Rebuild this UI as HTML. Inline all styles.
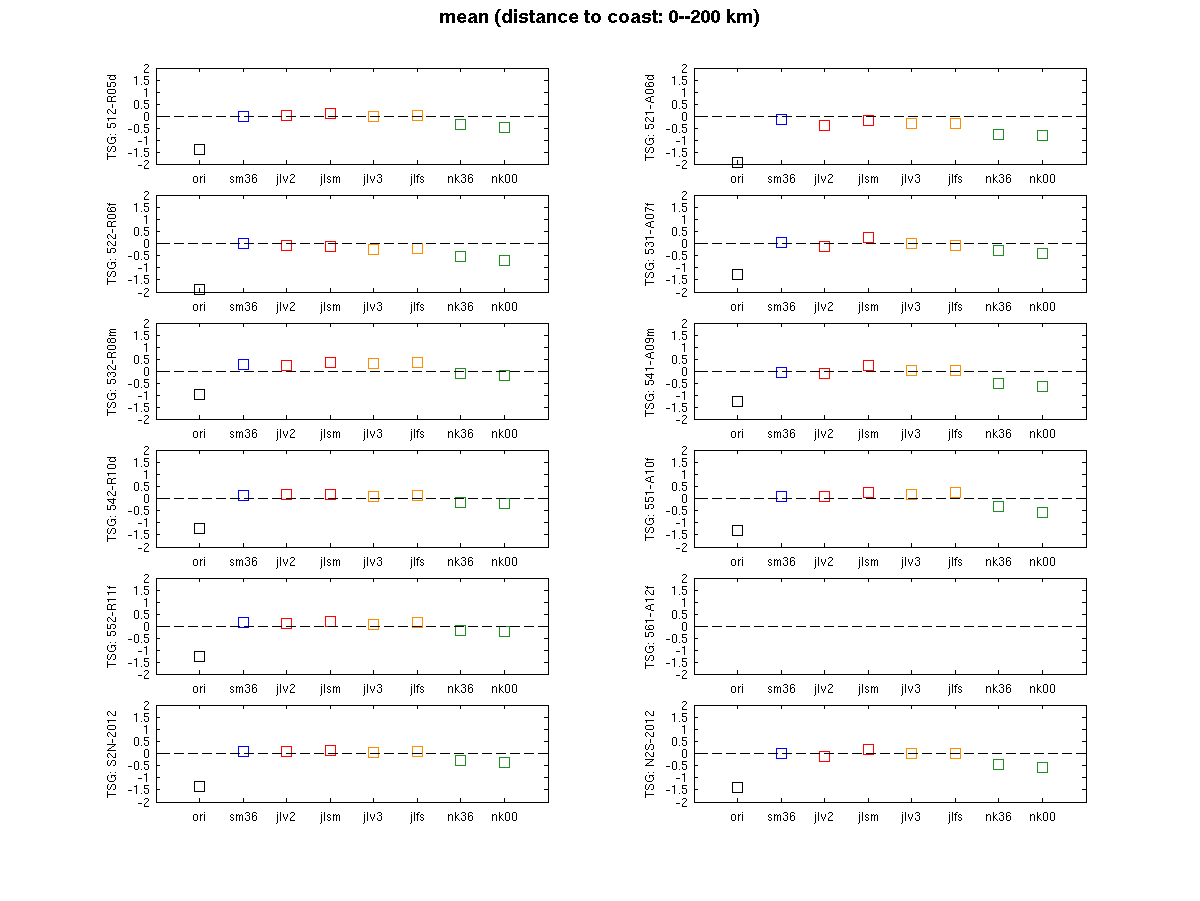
<!DOCTYPE html>
<html><head><meta charset="utf-8"><title>mean (distance to coast: 0--200 km)</title>
<style>html,body{margin:0;padding:0;background:#fff;overflow:hidden}svg{display:block;font-family:"Liberation Sans",sans-serif}</style></head><body>
<svg width="1200" height="901" viewBox="0 0 1200 901" shape-rendering="crispEdges">
<defs><path id="s0" d="M12 0h1v1h-1zM2 2h3v1h-3zM8 2h1v1h-1zM10 2h1v1h-1zM12 2h1v1h-1zM1 3h1v1h-1zM5 3h1v1h-1zM8 3h2v1h-2zM12 3h1v1h-1zM1 4h1v1h-1zM5 4h1v1h-1zM8 4h1v1h-1zM12 4h1v1h-1zM1 5h1v1h-1zM5 5h1v1h-1zM8 5h1v1h-1zM12 5h1v1h-1zM1 6h1v1h-1zM5 6h1v1h-1zM8 6h1v1h-1zM12 6h1v1h-1zM1 7h1v1h-1zM5 7h1v1h-1zM8 7h1v1h-1zM12 7h1v1h-1zM2 8h3v1h-3zM8 8h1v1h-1zM12 8h1v1h-1z"/><path id="s1" d="M17 0h3v1h-3zM24 0h3v1h-3zM16 1h1v1h-1zM20 1h1v1h-1zM23 1h1v1h-1zM27 1h1v1h-1zM2 2h2v1h-2zM7 2h1v1h-1zM9 2h1v1h-1zM12 2h1v1h-1zM20 2h1v1h-1zM23 2h1v1h-1zM1 3h1v1h-1zM4 3h1v1h-1zM7 3h2v1h-2zM10 3h2v1h-2zM13 3h1v1h-1zM18 3h2v1h-2zM23 3h1v1h-1zM25 3h2v1h-2zM1 4h1v1h-1zM7 4h1v1h-1zM10 4h1v1h-1zM13 4h1v1h-1zM20 4h1v1h-1zM23 4h2v1h-2zM27 4h1v1h-1zM2 5h2v1h-2zM7 5h1v1h-1zM10 5h1v1h-1zM13 5h1v1h-1zM20 5h1v1h-1zM23 5h1v1h-1zM27 5h1v1h-1zM4 6h1v1h-1zM7 6h1v1h-1zM10 6h1v1h-1zM13 6h1v1h-1zM16 6h1v1h-1zM20 6h1v1h-1zM23 6h1v1h-1zM27 6h1v1h-1zM1 7h1v1h-1zM4 7h1v1h-1zM7 7h1v1h-1zM10 7h1v1h-1zM13 7h1v1h-1zM16 7h1v1h-1zM20 7h1v1h-1zM23 7h1v1h-1zM27 7h1v1h-1zM2 8h2v1h-2zM7 8h1v1h-1zM10 8h1v1h-1zM13 8h1v1h-1zM17 8h3v1h-3zM24 8h3v1h-3z"/><path id="s2" d="M1 0h1v1h-1zM4 0h1v1h-1zM15 0h3v1h-3zM4 1h1v1h-1zM14 1h1v1h-1zM18 1h1v1h-1zM1 2h1v1h-1zM4 2h1v1h-1zM7 2h1v1h-1zM11 2h1v1h-1zM18 2h1v1h-1zM1 3h1v1h-1zM4 3h1v1h-1zM7 3h1v1h-1zM11 3h1v1h-1zM17 3h1v1h-1zM1 4h1v1h-1zM4 4h1v1h-1zM7 4h1v1h-1zM11 4h1v1h-1zM16 4h1v1h-1zM1 5h1v1h-1zM4 5h1v1h-1zM8 5h1v1h-1zM10 5h1v1h-1zM15 5h1v1h-1zM1 6h1v1h-1zM4 6h1v1h-1zM8 6h1v1h-1zM10 6h1v1h-1zM14 6h1v1h-1zM1 7h1v1h-1zM4 7h1v1h-1zM9 7h1v1h-1zM14 7h1v1h-1zM1 8h1v1h-1zM4 8h1v1h-1zM9 8h1v1h-1zM14 8h5v1h-5zM1 9h1v1h-1zM1 10h1v1h-1zM0 11h1v1h-1z"/><path id="s3" d="M1 0h1v1h-1zM4 0h1v1h-1zM4 1h1v1h-1zM1 2h1v1h-1zM4 2h1v1h-1zM8 2h2v1h-2zM13 2h1v1h-1zM15 2h1v1h-1zM18 2h1v1h-1zM1 3h1v1h-1zM4 3h1v1h-1zM7 3h1v1h-1zM10 3h1v1h-1zM13 3h2v1h-2zM16 3h2v1h-2zM19 3h1v1h-1zM1 4h1v1h-1zM4 4h1v1h-1zM7 4h1v1h-1zM13 4h1v1h-1zM16 4h1v1h-1zM19 4h1v1h-1zM1 5h1v1h-1zM4 5h1v1h-1zM8 5h2v1h-2zM13 5h1v1h-1zM16 5h1v1h-1zM19 5h1v1h-1zM1 6h1v1h-1zM4 6h1v1h-1zM10 6h1v1h-1zM13 6h1v1h-1zM16 6h1v1h-1zM19 6h1v1h-1zM1 7h1v1h-1zM4 7h1v1h-1zM7 7h1v1h-1zM10 7h1v1h-1zM13 7h1v1h-1zM16 7h1v1h-1zM19 7h1v1h-1zM1 8h1v1h-1zM4 8h1v1h-1zM8 8h2v1h-2zM13 8h1v1h-1zM16 8h1v1h-1zM19 8h1v1h-1zM1 9h1v1h-1zM1 10h1v1h-1zM0 11h1v1h-1z"/><path id="s4" d="M1 0h1v1h-1zM4 0h1v1h-1zM15 0h3v1h-3zM4 1h1v1h-1zM14 1h1v1h-1zM18 1h1v1h-1zM1 2h1v1h-1zM4 2h1v1h-1zM7 2h1v1h-1zM11 2h1v1h-1zM18 2h1v1h-1zM1 3h1v1h-1zM4 3h1v1h-1zM7 3h1v1h-1zM11 3h1v1h-1zM16 3h2v1h-2zM1 4h1v1h-1zM4 4h1v1h-1zM7 4h1v1h-1zM11 4h1v1h-1zM18 4h1v1h-1zM1 5h1v1h-1zM4 5h1v1h-1zM8 5h1v1h-1zM10 5h1v1h-1zM18 5h1v1h-1zM1 6h1v1h-1zM4 6h1v1h-1zM8 6h1v1h-1zM10 6h1v1h-1zM14 6h1v1h-1zM18 6h1v1h-1zM1 7h1v1h-1zM4 7h1v1h-1zM9 7h1v1h-1zM14 7h1v1h-1zM18 7h1v1h-1zM1 8h1v1h-1zM4 8h1v1h-1zM9 8h1v1h-1zM15 8h3v1h-3zM1 9h1v1h-1zM1 10h1v1h-1zM0 11h1v1h-1z"/><path id="s5" d="M1 0h1v1h-1zM4 0h1v1h-1zM8 0h2v1h-2zM4 1h1v1h-1zM7 1h1v1h-1zM1 2h1v1h-1zM4 2h1v1h-1zM6 2h3v1h-3zM11 2h2v1h-2zM1 3h1v1h-1zM4 3h1v1h-1zM7 3h1v1h-1zM10 3h1v1h-1zM13 3h1v1h-1zM1 4h1v1h-1zM4 4h1v1h-1zM7 4h1v1h-1zM10 4h1v1h-1zM1 5h1v1h-1zM4 5h1v1h-1zM7 5h1v1h-1zM11 5h2v1h-2zM1 6h1v1h-1zM4 6h1v1h-1zM7 6h1v1h-1zM13 6h1v1h-1zM1 7h1v1h-1zM4 7h1v1h-1zM7 7h1v1h-1zM10 7h1v1h-1zM13 7h1v1h-1zM1 8h1v1h-1zM4 8h1v1h-1zM7 8h1v1h-1zM11 8h2v1h-2zM1 9h1v1h-1zM1 10h1v1h-1zM0 11h1v1h-1z"/><path id="s6" d="M8 0h1v1h-1zM15 0h3v1h-3zM22 0h3v1h-3zM8 1h1v1h-1zM14 1h1v1h-1zM18 1h1v1h-1zM21 1h1v1h-1zM25 1h1v1h-1zM1 2h1v1h-1zM3 2h2v1h-2zM8 2h1v1h-1zM11 2h1v1h-1zM18 2h1v1h-1zM21 2h1v1h-1zM1 3h2v1h-2zM5 3h1v1h-1zM8 3h1v1h-1zM10 3h1v1h-1zM16 3h2v1h-2zM21 3h1v1h-1zM23 3h2v1h-2zM1 4h1v1h-1zM5 4h1v1h-1zM8 4h2v1h-2zM18 4h1v1h-1zM21 4h2v1h-2zM25 4h1v1h-1zM1 5h1v1h-1zM5 5h1v1h-1zM8 5h2v1h-2zM18 5h1v1h-1zM21 5h1v1h-1zM25 5h1v1h-1zM1 6h1v1h-1zM5 6h1v1h-1zM8 6h1v1h-1zM10 6h1v1h-1zM14 6h1v1h-1zM18 6h1v1h-1zM21 6h1v1h-1zM25 6h1v1h-1zM1 7h1v1h-1zM5 7h1v1h-1zM8 7h1v1h-1zM11 7h1v1h-1zM14 7h1v1h-1zM18 7h1v1h-1zM21 7h1v1h-1zM25 7h1v1h-1zM1 8h1v1h-1zM5 8h1v1h-1zM8 8h1v1h-1zM12 8h1v1h-1zM15 8h3v1h-3zM22 8h3v1h-3z"/><path id="s7" d="M8 0h1v1h-1zM15 0h3v1h-3zM22 0h3v1h-3zM8 1h1v1h-1zM14 1h1v1h-1zM18 1h1v1h-1zM21 1h1v1h-1zM25 1h1v1h-1zM1 2h1v1h-1zM3 2h2v1h-2zM8 2h1v1h-1zM11 2h1v1h-1zM14 2h1v1h-1zM18 2h1v1h-1zM21 2h1v1h-1zM25 2h1v1h-1zM1 3h2v1h-2zM5 3h1v1h-1zM8 3h1v1h-1zM10 3h1v1h-1zM14 3h1v1h-1zM18 3h1v1h-1zM21 3h1v1h-1zM25 3h1v1h-1zM1 4h1v1h-1zM5 4h1v1h-1zM8 4h2v1h-2zM14 4h1v1h-1zM18 4h1v1h-1zM21 4h1v1h-1zM25 4h1v1h-1zM1 5h1v1h-1zM5 5h1v1h-1zM8 5h2v1h-2zM14 5h1v1h-1zM18 5h1v1h-1zM21 5h1v1h-1zM25 5h1v1h-1zM1 6h1v1h-1zM5 6h1v1h-1zM8 6h1v1h-1zM10 6h1v1h-1zM14 6h1v1h-1zM18 6h1v1h-1zM21 6h1v1h-1zM25 6h1v1h-1zM1 7h1v1h-1zM5 7h1v1h-1zM8 7h1v1h-1zM11 7h1v1h-1zM14 7h1v1h-1zM18 7h1v1h-1zM21 7h1v1h-1zM25 7h1v1h-1zM1 8h1v1h-1zM5 8h1v1h-1zM8 8h1v1h-1zM12 8h1v1h-1zM15 8h3v1h-3zM22 8h3v1h-3z"/><path id="s8" d="M2 0h3v1h-3zM1 1h1v1h-1zM5 1h1v1h-1zM5 2h1v1h-1zM4 3h1v1h-1zM3 4h1v1h-1zM2 5h1v1h-1zM1 6h1v1h-1zM1 7h1v1h-1zM1 8h5v1h-5z"/><path id="s9" d="M3 0h1v1h-1zM11 0h5v1h-5zM1 1h3v1h-3zM11 1h1v1h-1zM3 2h1v1h-1zM11 2h1v1h-1zM3 3h1v1h-1zM11 3h4v1h-4zM3 4h1v1h-1zM15 4h1v1h-1zM3 5h1v1h-1zM15 5h1v1h-1zM3 6h1v1h-1zM11 6h1v1h-1zM15 6h1v1h-1zM3 7h1v1h-1zM11 7h1v1h-1zM15 7h1v1h-1zM3 8h1v1h-1zM8 8h1v1h-1zM12 8h3v1h-3z"/><path id="s10" d="M3 0h1v1h-1zM1 1h3v1h-3zM3 2h1v1h-1zM3 3h1v1h-1zM3 4h1v1h-1zM3 5h1v1h-1zM3 6h1v1h-1zM3 7h1v1h-1zM3 8h1v1h-1z"/><path id="s11" d="M2 0h3v1h-3zM11 0h5v1h-5zM1 1h1v1h-1zM5 1h1v1h-1zM11 1h1v1h-1zM1 2h1v1h-1zM5 2h1v1h-1zM11 2h1v1h-1zM1 3h1v1h-1zM5 3h1v1h-1zM11 3h4v1h-4zM1 4h1v1h-1zM5 4h1v1h-1zM15 4h1v1h-1zM1 5h1v1h-1zM5 5h1v1h-1zM15 5h1v1h-1zM1 6h1v1h-1zM5 6h1v1h-1zM11 6h1v1h-1zM15 6h1v1h-1zM1 7h1v1h-1zM5 7h1v1h-1zM11 7h1v1h-1zM15 7h1v1h-1zM2 8h3v1h-3zM8 8h1v1h-1zM12 8h3v1h-3z"/><path id="s12" d="M2 0h3v1h-3zM1 1h1v1h-1zM5 1h1v1h-1zM1 2h1v1h-1zM5 2h1v1h-1zM1 3h1v1h-1zM5 3h1v1h-1zM1 4h1v1h-1zM5 4h1v1h-1zM1 5h1v1h-1zM5 5h1v1h-1zM1 6h1v1h-1zM5 6h1v1h-1zM1 7h1v1h-1zM5 7h1v1h-1zM2 8h3v1h-3z"/><path id="s13" d="M7 0h3v1h-3zM16 0h5v1h-5zM6 1h1v1h-1zM10 1h1v1h-1zM16 1h1v1h-1zM6 2h1v1h-1zM10 2h1v1h-1zM16 2h1v1h-1zM6 3h1v1h-1zM10 3h1v1h-1zM16 3h4v1h-4zM6 4h1v1h-1zM10 4h1v1h-1zM20 4h1v1h-1zM0 5h4v1h-4zM6 5h1v1h-1zM10 5h1v1h-1zM20 5h1v1h-1zM6 6h1v1h-1zM10 6h1v1h-1zM16 6h1v1h-1zM20 6h1v1h-1zM6 7h1v1h-1zM10 7h1v1h-1zM16 7h1v1h-1zM20 7h1v1h-1zM7 8h3v1h-3zM13 8h1v1h-1zM17 8h3v1h-3z"/><path id="s14" d="M8 0h1v1h-1zM6 1h3v1h-3zM8 2h1v1h-1zM8 3h1v1h-1zM8 4h1v1h-1zM0 5h4v1h-4zM8 5h1v1h-1zM8 6h1v1h-1zM8 7h1v1h-1zM8 8h1v1h-1z"/><path id="s15" d="M8 0h1v1h-1zM16 0h5v1h-5zM6 1h3v1h-3zM16 1h1v1h-1zM8 2h1v1h-1zM16 2h1v1h-1zM8 3h1v1h-1zM16 3h4v1h-4zM8 4h1v1h-1zM20 4h1v1h-1zM0 5h4v1h-4zM8 5h1v1h-1zM20 5h1v1h-1zM8 6h1v1h-1zM16 6h1v1h-1zM20 6h1v1h-1zM8 7h1v1h-1zM16 7h1v1h-1zM20 7h1v1h-1zM8 8h1v1h-1zM13 8h1v1h-1zM17 8h3v1h-3z"/><path id="s16" d="M7 0h3v1h-3zM6 1h1v1h-1zM10 1h1v1h-1zM10 2h1v1h-1zM9 3h1v1h-1zM8 4h1v1h-1zM0 5h4v1h-4zM7 5h1v1h-1zM6 6h1v1h-1zM6 7h1v1h-1zM6 8h5v1h-5z"/><path id="s17" d="M0 0h7v1h-7zM9 0h4v1h-4zM18 0h4v1h-4zM32 0h5v1h-5zM41 0h1v1h-1zM47 0h3v1h-3zM58 0h5v1h-5zM67 0h3v1h-3zM73 0h5v1h-5zM84 0h1v1h-1zM3 1h1v1h-1zM8 1h1v1h-1zM13 1h1v1h-1zM17 1h1v1h-1zM22 1h1v1h-1zM32 1h1v1h-1zM39 1h3v1h-3zM46 1h1v1h-1zM50 1h1v1h-1zM58 1h1v1h-1zM63 1h1v1h-1zM66 1h1v1h-1zM70 1h1v1h-1zM73 1h1v1h-1zM84 1h1v1h-1zM3 2h1v1h-1zM8 2h1v1h-1zM16 2h1v1h-1zM32 2h1v1h-1zM41 2h1v1h-1zM50 2h1v1h-1zM58 2h1v1h-1zM63 2h1v1h-1zM66 2h1v1h-1zM70 2h1v1h-1zM73 2h1v1h-1zM81 2h2v1h-2zM84 2h1v1h-1zM3 3h1v1h-1zM9 3h2v1h-2zM16 3h1v1h-1zM25 3h1v1h-1zM32 3h4v1h-4zM41 3h1v1h-1zM49 3h1v1h-1zM58 3h1v1h-1zM63 3h1v1h-1zM66 3h1v1h-1zM70 3h1v1h-1zM73 3h4v1h-4zM80 3h1v1h-1zM83 3h2v1h-2zM3 4h1v1h-1zM11 4h2v1h-2zM16 4h1v1h-1zM20 4h3v1h-3zM36 4h1v1h-1zM41 4h1v1h-1zM48 4h1v1h-1zM58 4h5v1h-5zM66 4h1v1h-1zM70 4h1v1h-1zM77 4h1v1h-1zM80 4h1v1h-1zM84 4h1v1h-1zM3 5h1v1h-1zM13 5h1v1h-1zM16 5h1v1h-1zM22 5h1v1h-1zM36 5h1v1h-1zM41 5h1v1h-1zM47 5h1v1h-1zM52 5h4v1h-4zM58 5h1v1h-1zM62 5h1v1h-1zM66 5h1v1h-1zM70 5h1v1h-1zM77 5h1v1h-1zM80 5h1v1h-1zM84 5h1v1h-1zM3 6h1v1h-1zM8 6h1v1h-1zM13 6h1v1h-1zM16 6h1v1h-1zM22 6h1v1h-1zM32 6h1v1h-1zM36 6h1v1h-1zM41 6h1v1h-1zM46 6h1v1h-1zM58 6h1v1h-1zM63 6h1v1h-1zM66 6h1v1h-1zM70 6h1v1h-1zM73 6h1v1h-1zM77 6h1v1h-1zM80 6h1v1h-1zM84 6h1v1h-1zM3 7h1v1h-1zM8 7h1v1h-1zM13 7h1v1h-1zM17 7h1v1h-1zM21 7h2v1h-2zM32 7h1v1h-1zM36 7h1v1h-1zM41 7h1v1h-1zM46 7h1v1h-1zM58 7h1v1h-1zM63 7h1v1h-1zM66 7h1v1h-1zM70 7h1v1h-1zM73 7h1v1h-1zM77 7h1v1h-1zM80 7h1v1h-1zM83 7h2v1h-2zM3 8h1v1h-1zM9 8h4v1h-4zM18 8h3v1h-3zM22 8h1v1h-1zM25 8h1v1h-1zM33 8h3v1h-3zM41 8h1v1h-1zM46 8h5v1h-5zM58 8h1v1h-1zM63 8h1v1h-1zM67 8h3v1h-3zM74 8h3v1h-3zM81 8h2v1h-2zM84 8h1v1h-1z"/><path id="s18" d="M0 0h7v1h-7zM9 0h4v1h-4zM18 0h4v1h-4zM32 0h5v1h-5zM40 0h3v1h-3zM48 0h1v1h-1zM61 0h1v1h-1zM68 0h3v1h-3zM75 0h3v1h-3zM85 0h1v1h-1zM3 1h1v1h-1zM8 1h1v1h-1zM13 1h1v1h-1zM17 1h1v1h-1zM22 1h1v1h-1zM32 1h1v1h-1zM39 1h1v1h-1zM43 1h1v1h-1zM46 1h3v1h-3zM60 1h1v1h-1zM62 1h1v1h-1zM67 1h1v1h-1zM71 1h1v1h-1zM74 1h1v1h-1zM78 1h1v1h-1zM85 1h1v1h-1zM3 2h1v1h-1zM8 2h1v1h-1zM16 2h1v1h-1zM32 2h1v1h-1zM43 2h1v1h-1zM48 2h1v1h-1zM60 2h1v1h-1zM62 2h1v1h-1zM67 2h1v1h-1zM71 2h1v1h-1zM74 2h1v1h-1zM82 2h2v1h-2zM85 2h1v1h-1zM3 3h1v1h-1zM9 3h2v1h-2zM16 3h1v1h-1zM25 3h1v1h-1zM32 3h4v1h-4zM42 3h1v1h-1zM48 3h1v1h-1zM59 3h1v1h-1zM63 3h1v1h-1zM67 3h1v1h-1zM71 3h1v1h-1zM74 3h1v1h-1zM76 3h2v1h-2zM81 3h1v1h-1zM84 3h2v1h-2zM3 4h1v1h-1zM11 4h2v1h-2zM16 4h1v1h-1zM20 4h3v1h-3zM36 4h1v1h-1zM41 4h1v1h-1zM48 4h1v1h-1zM59 4h1v1h-1zM63 4h1v1h-1zM67 4h1v1h-1zM71 4h1v1h-1zM74 4h2v1h-2zM78 4h1v1h-1zM81 4h1v1h-1zM85 4h1v1h-1zM3 5h1v1h-1zM13 5h1v1h-1zM16 5h1v1h-1zM22 5h1v1h-1zM36 5h1v1h-1zM40 5h1v1h-1zM48 5h1v1h-1zM52 5h4v1h-4zM59 5h5v1h-5zM67 5h1v1h-1zM71 5h1v1h-1zM74 5h1v1h-1zM78 5h1v1h-1zM81 5h1v1h-1zM85 5h1v1h-1zM3 6h1v1h-1zM8 6h1v1h-1zM13 6h1v1h-1zM16 6h1v1h-1zM22 6h1v1h-1zM32 6h1v1h-1zM36 6h1v1h-1zM39 6h1v1h-1zM48 6h1v1h-1zM58 6h1v1h-1zM64 6h1v1h-1zM67 6h1v1h-1zM71 6h1v1h-1zM74 6h1v1h-1zM78 6h1v1h-1zM81 6h1v1h-1zM85 6h1v1h-1zM3 7h1v1h-1zM8 7h1v1h-1zM13 7h1v1h-1zM17 7h1v1h-1zM21 7h2v1h-2zM32 7h1v1h-1zM36 7h1v1h-1zM39 7h1v1h-1zM48 7h1v1h-1zM58 7h1v1h-1zM64 7h1v1h-1zM67 7h1v1h-1zM71 7h1v1h-1zM74 7h1v1h-1zM78 7h1v1h-1zM81 7h1v1h-1zM84 7h2v1h-2zM3 8h1v1h-1zM9 8h4v1h-4zM18 8h3v1h-3zM22 8h1v1h-1zM25 8h1v1h-1zM33 8h3v1h-3zM39 8h5v1h-5zM48 8h1v1h-1zM58 8h1v1h-1zM64 8h1v1h-1zM68 8h3v1h-3zM75 8h3v1h-3zM82 8h2v1h-2zM85 8h1v1h-1z"/><path id="s19" d="M0 0h7v1h-7zM9 0h4v1h-4zM18 0h4v1h-4zM32 0h5v1h-5zM40 0h3v1h-3zM47 0h3v1h-3zM58 0h5v1h-5zM67 0h3v1h-3zM74 0h3v1h-3zM81 0h1v1h-1zM3 1h1v1h-1zM8 1h1v1h-1zM13 1h1v1h-1zM17 1h1v1h-1zM22 1h1v1h-1zM32 1h1v1h-1zM39 1h1v1h-1zM43 1h1v1h-1zM46 1h1v1h-1zM50 1h1v1h-1zM58 1h1v1h-1zM63 1h1v1h-1zM66 1h1v1h-1zM70 1h1v1h-1zM73 1h1v1h-1zM77 1h1v1h-1zM80 1h1v1h-1zM3 2h1v1h-1zM8 2h1v1h-1zM16 2h1v1h-1zM32 2h1v1h-1zM43 2h1v1h-1zM50 2h1v1h-1zM58 2h1v1h-1zM63 2h1v1h-1zM66 2h1v1h-1zM70 2h1v1h-1zM73 2h1v1h-1zM79 2h3v1h-3zM3 3h1v1h-1zM9 3h2v1h-2zM16 3h1v1h-1zM25 3h1v1h-1zM32 3h4v1h-4zM42 3h1v1h-1zM49 3h1v1h-1zM58 3h1v1h-1zM63 3h1v1h-1zM66 3h1v1h-1zM70 3h1v1h-1zM73 3h1v1h-1zM75 3h2v1h-2zM80 3h1v1h-1zM3 4h1v1h-1zM11 4h2v1h-2zM16 4h1v1h-1zM20 4h3v1h-3zM36 4h1v1h-1zM41 4h1v1h-1zM48 4h1v1h-1zM58 4h5v1h-5zM66 4h1v1h-1zM70 4h1v1h-1zM73 4h2v1h-2zM77 4h1v1h-1zM80 4h1v1h-1zM3 5h1v1h-1zM13 5h1v1h-1zM16 5h1v1h-1zM22 5h1v1h-1zM36 5h1v1h-1zM40 5h1v1h-1zM47 5h1v1h-1zM52 5h4v1h-4zM58 5h1v1h-1zM62 5h1v1h-1zM66 5h1v1h-1zM70 5h1v1h-1zM73 5h1v1h-1zM77 5h1v1h-1zM80 5h1v1h-1zM3 6h1v1h-1zM8 6h1v1h-1zM13 6h1v1h-1zM16 6h1v1h-1zM22 6h1v1h-1zM32 6h1v1h-1zM36 6h1v1h-1zM39 6h1v1h-1zM46 6h1v1h-1zM58 6h1v1h-1zM63 6h1v1h-1zM66 6h1v1h-1zM70 6h1v1h-1zM73 6h1v1h-1zM77 6h1v1h-1zM80 6h1v1h-1zM3 7h1v1h-1zM8 7h1v1h-1zM13 7h1v1h-1zM17 7h1v1h-1zM21 7h2v1h-2zM32 7h1v1h-1zM36 7h1v1h-1zM39 7h1v1h-1zM46 7h1v1h-1zM58 7h1v1h-1zM63 7h1v1h-1zM66 7h1v1h-1zM70 7h1v1h-1zM73 7h1v1h-1zM77 7h1v1h-1zM80 7h1v1h-1zM3 8h1v1h-1zM9 8h4v1h-4zM18 8h3v1h-3zM22 8h1v1h-1zM25 8h1v1h-1zM33 8h3v1h-3zM39 8h5v1h-5zM46 8h5v1h-5zM58 8h1v1h-1zM63 8h1v1h-1zM67 8h3v1h-3zM74 8h3v1h-3zM80 8h1v1h-1z"/><path id="s20" d="M0 0h7v1h-7zM9 0h4v1h-4zM18 0h4v1h-4zM32 0h5v1h-5zM40 0h3v1h-3zM48 0h1v1h-1zM61 0h1v1h-1zM68 0h3v1h-3zM74 0h5v1h-5zM82 0h1v1h-1zM3 1h1v1h-1zM8 1h1v1h-1zM13 1h1v1h-1zM17 1h1v1h-1zM22 1h1v1h-1zM32 1h1v1h-1zM39 1h1v1h-1zM43 1h1v1h-1zM46 1h3v1h-3zM60 1h1v1h-1zM62 1h1v1h-1zM67 1h1v1h-1zM71 1h1v1h-1zM78 1h1v1h-1zM81 1h1v1h-1zM3 2h1v1h-1zM8 2h1v1h-1zM16 2h1v1h-1zM32 2h1v1h-1zM43 2h1v1h-1zM48 2h1v1h-1zM60 2h1v1h-1zM62 2h1v1h-1zM67 2h1v1h-1zM71 2h1v1h-1zM77 2h1v1h-1zM80 2h3v1h-3zM3 3h1v1h-1zM9 3h2v1h-2zM16 3h1v1h-1zM25 3h1v1h-1zM32 3h4v1h-4zM41 3h2v1h-2zM48 3h1v1h-1zM59 3h1v1h-1zM63 3h1v1h-1zM67 3h1v1h-1zM71 3h1v1h-1zM77 3h1v1h-1zM81 3h1v1h-1zM3 4h1v1h-1zM11 4h2v1h-2zM16 4h1v1h-1zM20 4h3v1h-3zM36 4h1v1h-1zM43 4h1v1h-1zM48 4h1v1h-1zM59 4h1v1h-1zM63 4h1v1h-1zM67 4h1v1h-1zM71 4h1v1h-1zM76 4h1v1h-1zM81 4h1v1h-1zM3 5h1v1h-1zM13 5h1v1h-1zM16 5h1v1h-1zM22 5h1v1h-1zM36 5h1v1h-1zM43 5h1v1h-1zM48 5h1v1h-1zM52 5h4v1h-4zM59 5h5v1h-5zM67 5h1v1h-1zM71 5h1v1h-1zM76 5h1v1h-1zM81 5h1v1h-1zM3 6h1v1h-1zM8 6h1v1h-1zM13 6h1v1h-1zM16 6h1v1h-1zM22 6h1v1h-1zM32 6h1v1h-1zM36 6h1v1h-1zM39 6h1v1h-1zM43 6h1v1h-1zM48 6h1v1h-1zM58 6h1v1h-1zM64 6h1v1h-1zM67 6h1v1h-1zM71 6h1v1h-1zM76 6h1v1h-1zM81 6h1v1h-1zM3 7h1v1h-1zM8 7h1v1h-1zM13 7h1v1h-1zM17 7h1v1h-1zM21 7h2v1h-2zM32 7h1v1h-1zM36 7h1v1h-1zM39 7h1v1h-1zM43 7h1v1h-1zM48 7h1v1h-1zM58 7h1v1h-1zM64 7h1v1h-1zM67 7h1v1h-1zM71 7h1v1h-1zM75 7h1v1h-1zM81 7h1v1h-1zM3 8h1v1h-1zM9 8h4v1h-4zM18 8h3v1h-3zM22 8h1v1h-1zM25 8h1v1h-1zM33 8h3v1h-3zM40 8h3v1h-3zM48 8h1v1h-1zM58 8h1v1h-1zM64 8h1v1h-1zM68 8h3v1h-3zM75 8h1v1h-1zM81 8h1v1h-1z"/><path id="s21" d="M0 0h7v1h-7zM9 0h4v1h-4zM18 0h4v1h-4zM32 0h5v1h-5zM40 0h3v1h-3zM47 0h3v1h-3zM58 0h5v1h-5zM67 0h3v1h-3zM74 0h3v1h-3zM3 1h1v1h-1zM8 1h1v1h-1zM13 1h1v1h-1zM17 1h1v1h-1zM22 1h1v1h-1zM32 1h1v1h-1zM39 1h1v1h-1zM43 1h1v1h-1zM46 1h1v1h-1zM50 1h1v1h-1zM58 1h1v1h-1zM63 1h1v1h-1zM66 1h1v1h-1zM70 1h1v1h-1zM73 1h1v1h-1zM77 1h1v1h-1zM3 2h1v1h-1zM8 2h1v1h-1zM16 2h1v1h-1zM32 2h1v1h-1zM43 2h1v1h-1zM50 2h1v1h-1zM58 2h1v1h-1zM63 2h1v1h-1zM66 2h1v1h-1zM70 2h1v1h-1zM73 2h1v1h-1zM77 2h1v1h-1zM80 2h1v1h-1zM82 2h1v1h-1zM85 2h1v1h-1zM3 3h1v1h-1zM9 3h2v1h-2zM16 3h1v1h-1zM25 3h1v1h-1zM32 3h4v1h-4zM41 3h2v1h-2zM49 3h1v1h-1zM58 3h1v1h-1zM63 3h1v1h-1zM66 3h1v1h-1zM70 3h1v1h-1zM74 3h3v1h-3zM80 3h2v1h-2zM83 3h2v1h-2zM86 3h1v1h-1zM3 4h1v1h-1zM11 4h2v1h-2zM16 4h1v1h-1zM20 4h3v1h-3zM36 4h1v1h-1zM43 4h1v1h-1zM48 4h1v1h-1zM58 4h5v1h-5zM66 4h1v1h-1zM70 4h1v1h-1zM73 4h1v1h-1zM77 4h1v1h-1zM80 4h1v1h-1zM83 4h1v1h-1zM86 4h1v1h-1zM3 5h1v1h-1zM13 5h1v1h-1zM16 5h1v1h-1zM22 5h1v1h-1zM36 5h1v1h-1zM43 5h1v1h-1zM47 5h1v1h-1zM52 5h4v1h-4zM58 5h1v1h-1zM62 5h1v1h-1zM66 5h1v1h-1zM70 5h1v1h-1zM73 5h1v1h-1zM77 5h1v1h-1zM80 5h1v1h-1zM83 5h1v1h-1zM86 5h1v1h-1zM3 6h1v1h-1zM8 6h1v1h-1zM13 6h1v1h-1zM16 6h1v1h-1zM22 6h1v1h-1zM32 6h1v1h-1zM36 6h1v1h-1zM39 6h1v1h-1zM43 6h1v1h-1zM46 6h1v1h-1zM58 6h1v1h-1zM63 6h1v1h-1zM66 6h1v1h-1zM70 6h1v1h-1zM73 6h1v1h-1zM77 6h1v1h-1zM80 6h1v1h-1zM83 6h1v1h-1zM86 6h1v1h-1zM3 7h1v1h-1zM8 7h1v1h-1zM13 7h1v1h-1zM17 7h1v1h-1zM21 7h2v1h-2zM32 7h1v1h-1zM36 7h1v1h-1zM39 7h1v1h-1zM43 7h1v1h-1zM46 7h1v1h-1zM58 7h1v1h-1zM63 7h1v1h-1zM66 7h1v1h-1zM70 7h1v1h-1zM73 7h1v1h-1zM77 7h1v1h-1zM80 7h1v1h-1zM83 7h1v1h-1zM86 7h1v1h-1zM3 8h1v1h-1zM9 8h4v1h-4zM18 8h3v1h-3zM22 8h1v1h-1zM25 8h1v1h-1zM33 8h3v1h-3zM40 8h3v1h-3zM46 8h5v1h-5zM58 8h1v1h-1zM63 8h1v1h-1zM67 8h3v1h-3zM74 8h3v1h-3zM80 8h1v1h-1zM83 8h1v1h-1zM86 8h1v1h-1z"/><path id="s22" d="M0 0h7v1h-7zM9 0h4v1h-4zM18 0h4v1h-4zM32 0h5v1h-5zM42 0h1v1h-1zM48 0h1v1h-1zM61 0h1v1h-1zM68 0h3v1h-3zM75 0h3v1h-3zM3 1h1v1h-1zM8 1h1v1h-1zM13 1h1v1h-1zM17 1h1v1h-1zM22 1h1v1h-1zM32 1h1v1h-1zM41 1h2v1h-2zM46 1h3v1h-3zM60 1h1v1h-1zM62 1h1v1h-1zM67 1h1v1h-1zM71 1h1v1h-1zM74 1h1v1h-1zM78 1h1v1h-1zM3 2h1v1h-1zM8 2h1v1h-1zM16 2h1v1h-1zM32 2h1v1h-1zM40 2h1v1h-1zM42 2h1v1h-1zM48 2h1v1h-1zM60 2h1v1h-1zM62 2h1v1h-1zM67 2h1v1h-1zM71 2h1v1h-1zM74 2h1v1h-1zM78 2h1v1h-1zM81 2h1v1h-1zM83 2h1v1h-1zM86 2h1v1h-1zM3 3h1v1h-1zM9 3h2v1h-2zM16 3h1v1h-1zM25 3h1v1h-1zM32 3h4v1h-4zM40 3h1v1h-1zM42 3h1v1h-1zM48 3h1v1h-1zM59 3h1v1h-1zM63 3h1v1h-1zM67 3h1v1h-1zM71 3h1v1h-1zM74 3h1v1h-1zM78 3h1v1h-1zM81 3h2v1h-2zM84 3h2v1h-2zM87 3h1v1h-1zM3 4h1v1h-1zM11 4h2v1h-2zM16 4h1v1h-1zM20 4h3v1h-3zM36 4h1v1h-1zM39 4h1v1h-1zM42 4h1v1h-1zM48 4h1v1h-1zM59 4h1v1h-1zM63 4h1v1h-1zM67 4h1v1h-1zM71 4h1v1h-1zM75 4h4v1h-4zM81 4h1v1h-1zM84 4h1v1h-1zM87 4h1v1h-1zM3 5h1v1h-1zM13 5h1v1h-1zM16 5h1v1h-1zM22 5h1v1h-1zM36 5h1v1h-1zM38 5h1v1h-1zM42 5h1v1h-1zM48 5h1v1h-1zM52 5h4v1h-4zM59 5h5v1h-5zM67 5h1v1h-1zM71 5h1v1h-1zM78 5h1v1h-1zM81 5h1v1h-1zM84 5h1v1h-1zM87 5h1v1h-1zM3 6h1v1h-1zM8 6h1v1h-1zM13 6h1v1h-1zM16 6h1v1h-1zM22 6h1v1h-1zM32 6h1v1h-1zM36 6h1v1h-1zM38 6h6v1h-6zM48 6h1v1h-1zM58 6h1v1h-1zM64 6h1v1h-1zM67 6h1v1h-1zM71 6h1v1h-1zM78 6h1v1h-1zM81 6h1v1h-1zM84 6h1v1h-1zM87 6h1v1h-1zM3 7h1v1h-1zM8 7h1v1h-1zM13 7h1v1h-1zM17 7h1v1h-1zM21 7h2v1h-2zM32 7h1v1h-1zM36 7h1v1h-1zM42 7h1v1h-1zM48 7h1v1h-1zM58 7h1v1h-1zM64 7h1v1h-1zM67 7h1v1h-1zM71 7h1v1h-1zM74 7h1v1h-1zM78 7h1v1h-1zM81 7h1v1h-1zM84 7h1v1h-1zM87 7h1v1h-1zM3 8h1v1h-1zM9 8h4v1h-4zM18 8h3v1h-3zM22 8h1v1h-1zM25 8h1v1h-1zM33 8h3v1h-3zM42 8h1v1h-1zM48 8h1v1h-1zM58 8h1v1h-1zM64 8h1v1h-1zM68 8h3v1h-3zM75 8h3v1h-3zM81 8h1v1h-1zM84 8h1v1h-1zM87 8h1v1h-1z"/><path id="s23" d="M0 0h7v1h-7zM9 0h4v1h-4zM18 0h4v1h-4zM32 0h5v1h-5zM42 0h1v1h-1zM47 0h3v1h-3zM58 0h5v1h-5zM68 0h1v1h-1zM74 0h3v1h-3zM84 0h1v1h-1zM3 1h1v1h-1zM8 1h1v1h-1zM13 1h1v1h-1zM17 1h1v1h-1zM22 1h1v1h-1zM32 1h1v1h-1zM41 1h2v1h-2zM46 1h1v1h-1zM50 1h1v1h-1zM58 1h1v1h-1zM63 1h1v1h-1zM66 1h3v1h-3zM73 1h1v1h-1zM77 1h1v1h-1zM84 1h1v1h-1zM3 2h1v1h-1zM8 2h1v1h-1zM16 2h1v1h-1zM32 2h1v1h-1zM40 2h1v1h-1zM42 2h1v1h-1zM50 2h1v1h-1zM58 2h1v1h-1zM63 2h1v1h-1zM68 2h1v1h-1zM73 2h1v1h-1zM77 2h1v1h-1zM81 2h2v1h-2zM84 2h1v1h-1zM3 3h1v1h-1zM9 3h2v1h-2zM16 3h1v1h-1zM25 3h1v1h-1zM32 3h4v1h-4zM40 3h1v1h-1zM42 3h1v1h-1zM49 3h1v1h-1zM58 3h1v1h-1zM63 3h1v1h-1zM68 3h1v1h-1zM73 3h1v1h-1zM77 3h1v1h-1zM80 3h1v1h-1zM83 3h2v1h-2zM3 4h1v1h-1zM11 4h2v1h-2zM16 4h1v1h-1zM20 4h3v1h-3zM36 4h1v1h-1zM39 4h1v1h-1zM42 4h1v1h-1zM48 4h1v1h-1zM58 4h5v1h-5zM68 4h1v1h-1zM73 4h1v1h-1zM77 4h1v1h-1zM80 4h1v1h-1zM84 4h1v1h-1zM3 5h1v1h-1zM13 5h1v1h-1zM16 5h1v1h-1zM22 5h1v1h-1zM36 5h1v1h-1zM38 5h1v1h-1zM42 5h1v1h-1zM47 5h1v1h-1zM52 5h4v1h-4zM58 5h1v1h-1zM62 5h1v1h-1zM68 5h1v1h-1zM73 5h1v1h-1zM77 5h1v1h-1zM80 5h1v1h-1zM84 5h1v1h-1zM3 6h1v1h-1zM8 6h1v1h-1zM13 6h1v1h-1zM16 6h1v1h-1zM22 6h1v1h-1zM32 6h1v1h-1zM36 6h1v1h-1zM38 6h6v1h-6zM46 6h1v1h-1zM58 6h1v1h-1zM63 6h1v1h-1zM68 6h1v1h-1zM73 6h1v1h-1zM77 6h1v1h-1zM80 6h1v1h-1zM84 6h1v1h-1zM3 7h1v1h-1zM8 7h1v1h-1zM13 7h1v1h-1zM17 7h1v1h-1zM21 7h2v1h-2zM32 7h1v1h-1zM36 7h1v1h-1zM42 7h1v1h-1zM46 7h1v1h-1zM58 7h1v1h-1zM63 7h1v1h-1zM68 7h1v1h-1zM73 7h1v1h-1zM77 7h1v1h-1zM80 7h1v1h-1zM83 7h2v1h-2zM3 8h1v1h-1zM9 8h4v1h-4zM18 8h3v1h-3zM22 8h1v1h-1zM25 8h1v1h-1zM33 8h3v1h-3zM42 8h1v1h-1zM46 8h5v1h-5zM58 8h1v1h-1zM63 8h1v1h-1zM68 8h1v1h-1zM74 8h3v1h-3zM81 8h2v1h-2zM84 8h1v1h-1z"/><path id="s24" d="M0 0h7v1h-7zM9 0h4v1h-4zM18 0h4v1h-4zM32 0h5v1h-5zM39 0h5v1h-5zM48 0h1v1h-1zM61 0h1v1h-1zM69 0h1v1h-1zM75 0h3v1h-3zM82 0h1v1h-1zM3 1h1v1h-1zM8 1h1v1h-1zM13 1h1v1h-1zM17 1h1v1h-1zM22 1h1v1h-1zM32 1h1v1h-1zM39 1h1v1h-1zM46 1h3v1h-3zM60 1h1v1h-1zM62 1h1v1h-1zM67 1h3v1h-3zM74 1h1v1h-1zM78 1h1v1h-1zM81 1h1v1h-1zM3 2h1v1h-1zM8 2h1v1h-1zM16 2h1v1h-1zM32 2h1v1h-1zM39 2h1v1h-1zM48 2h1v1h-1zM60 2h1v1h-1zM62 2h1v1h-1zM69 2h1v1h-1zM74 2h1v1h-1zM78 2h1v1h-1zM80 2h3v1h-3zM3 3h1v1h-1zM9 3h2v1h-2zM16 3h1v1h-1zM25 3h1v1h-1zM32 3h4v1h-4zM39 3h4v1h-4zM48 3h1v1h-1zM59 3h1v1h-1zM63 3h1v1h-1zM69 3h1v1h-1zM74 3h1v1h-1zM78 3h1v1h-1zM81 3h1v1h-1zM3 4h1v1h-1zM11 4h2v1h-2zM16 4h1v1h-1zM20 4h3v1h-3zM36 4h1v1h-1zM43 4h1v1h-1zM48 4h1v1h-1zM59 4h1v1h-1zM63 4h1v1h-1zM69 4h1v1h-1zM74 4h1v1h-1zM78 4h1v1h-1zM81 4h1v1h-1zM3 5h1v1h-1zM13 5h1v1h-1zM16 5h1v1h-1zM22 5h1v1h-1zM36 5h1v1h-1zM43 5h1v1h-1zM48 5h1v1h-1zM52 5h4v1h-4zM59 5h5v1h-5zM69 5h1v1h-1zM74 5h1v1h-1zM78 5h1v1h-1zM81 5h1v1h-1zM3 6h1v1h-1zM8 6h1v1h-1zM13 6h1v1h-1zM16 6h1v1h-1zM22 6h1v1h-1zM32 6h1v1h-1zM36 6h1v1h-1zM39 6h1v1h-1zM43 6h1v1h-1zM48 6h1v1h-1zM58 6h1v1h-1zM64 6h1v1h-1zM69 6h1v1h-1zM74 6h1v1h-1zM78 6h1v1h-1zM81 6h1v1h-1zM3 7h1v1h-1zM8 7h1v1h-1zM13 7h1v1h-1zM17 7h1v1h-1zM21 7h2v1h-2zM32 7h1v1h-1zM36 7h1v1h-1zM39 7h1v1h-1zM43 7h1v1h-1zM48 7h1v1h-1zM58 7h1v1h-1zM64 7h1v1h-1zM69 7h1v1h-1zM74 7h1v1h-1zM78 7h1v1h-1zM81 7h1v1h-1zM3 8h1v1h-1zM9 8h4v1h-4zM18 8h3v1h-3zM22 8h1v1h-1zM25 8h1v1h-1zM33 8h3v1h-3zM40 8h3v1h-3zM48 8h1v1h-1zM58 8h1v1h-1zM64 8h1v1h-1zM69 8h1v1h-1zM75 8h3v1h-3zM81 8h1v1h-1z"/><path id="s25" d="M0 0h7v1h-7zM9 0h4v1h-4zM18 0h4v1h-4zM32 0h5v1h-5zM39 0h5v1h-5zM47 0h3v1h-3zM58 0h5v1h-5zM68 0h1v1h-1zM75 0h1v1h-1zM81 0h1v1h-1zM3 1h1v1h-1zM8 1h1v1h-1zM13 1h1v1h-1zM17 1h1v1h-1zM22 1h1v1h-1zM32 1h1v1h-1zM39 1h1v1h-1zM46 1h1v1h-1zM50 1h1v1h-1zM58 1h1v1h-1zM63 1h1v1h-1zM66 1h3v1h-3zM73 1h3v1h-3zM80 1h1v1h-1zM3 2h1v1h-1zM8 2h1v1h-1zM16 2h1v1h-1zM32 2h1v1h-1zM39 2h1v1h-1zM50 2h1v1h-1zM58 2h1v1h-1zM63 2h1v1h-1zM68 2h1v1h-1zM75 2h1v1h-1zM79 2h3v1h-3zM3 3h1v1h-1zM9 3h2v1h-2zM16 3h1v1h-1zM25 3h1v1h-1zM32 3h4v1h-4zM39 3h4v1h-4zM49 3h1v1h-1zM58 3h1v1h-1zM63 3h1v1h-1zM68 3h1v1h-1zM75 3h1v1h-1zM80 3h1v1h-1zM3 4h1v1h-1zM11 4h2v1h-2zM16 4h1v1h-1zM20 4h3v1h-3zM36 4h1v1h-1zM43 4h1v1h-1zM48 4h1v1h-1zM58 4h5v1h-5zM68 4h1v1h-1zM75 4h1v1h-1zM80 4h1v1h-1zM3 5h1v1h-1zM13 5h1v1h-1zM16 5h1v1h-1zM22 5h1v1h-1zM36 5h1v1h-1zM43 5h1v1h-1zM47 5h1v1h-1zM52 5h4v1h-4zM58 5h1v1h-1zM62 5h1v1h-1zM68 5h1v1h-1zM75 5h1v1h-1zM80 5h1v1h-1zM3 6h1v1h-1zM8 6h1v1h-1zM13 6h1v1h-1zM16 6h1v1h-1zM22 6h1v1h-1zM32 6h1v1h-1zM36 6h1v1h-1zM39 6h1v1h-1zM43 6h1v1h-1zM46 6h1v1h-1zM58 6h1v1h-1zM63 6h1v1h-1zM68 6h1v1h-1zM75 6h1v1h-1zM80 6h1v1h-1zM3 7h1v1h-1zM8 7h1v1h-1zM13 7h1v1h-1zM17 7h1v1h-1zM21 7h2v1h-2zM32 7h1v1h-1zM36 7h1v1h-1zM39 7h1v1h-1zM43 7h1v1h-1zM46 7h1v1h-1zM58 7h1v1h-1zM63 7h1v1h-1zM68 7h1v1h-1zM75 7h1v1h-1zM80 7h1v1h-1zM3 8h1v1h-1zM9 8h4v1h-4zM18 8h3v1h-3zM22 8h1v1h-1zM25 8h1v1h-1zM33 8h3v1h-3zM40 8h3v1h-3zM46 8h5v1h-5zM58 8h1v1h-1zM63 8h1v1h-1zM68 8h1v1h-1zM75 8h1v1h-1zM80 8h1v1h-1z"/><path id="s26" d="M0 0h7v1h-7zM9 0h4v1h-4zM18 0h4v1h-4zM32 0h5v1h-5zM40 0h3v1h-3zM48 0h1v1h-1zM61 0h1v1h-1zM69 0h1v1h-1zM75 0h3v1h-3zM82 0h1v1h-1zM3 1h1v1h-1zM8 1h1v1h-1zM13 1h1v1h-1zM17 1h1v1h-1zM22 1h1v1h-1zM32 1h1v1h-1zM39 1h1v1h-1zM43 1h1v1h-1zM46 1h3v1h-3zM60 1h1v1h-1zM62 1h1v1h-1zM67 1h3v1h-3zM74 1h1v1h-1zM78 1h1v1h-1zM81 1h1v1h-1zM3 2h1v1h-1zM8 2h1v1h-1zM16 2h1v1h-1zM32 2h1v1h-1zM39 2h1v1h-1zM48 2h1v1h-1zM60 2h1v1h-1zM62 2h1v1h-1zM69 2h1v1h-1zM78 2h1v1h-1zM80 2h3v1h-3zM3 3h1v1h-1zM9 3h2v1h-2zM16 3h1v1h-1zM25 3h1v1h-1zM32 3h4v1h-4zM39 3h1v1h-1zM41 3h2v1h-2zM48 3h1v1h-1zM59 3h1v1h-1zM63 3h1v1h-1zM69 3h1v1h-1zM77 3h1v1h-1zM81 3h1v1h-1zM3 4h1v1h-1zM11 4h2v1h-2zM16 4h1v1h-1zM20 4h3v1h-3zM36 4h1v1h-1zM39 4h2v1h-2zM43 4h1v1h-1zM48 4h1v1h-1zM59 4h1v1h-1zM63 4h1v1h-1zM69 4h1v1h-1zM76 4h1v1h-1zM81 4h1v1h-1zM3 5h1v1h-1zM13 5h1v1h-1zM16 5h1v1h-1zM22 5h1v1h-1zM36 5h1v1h-1zM39 5h1v1h-1zM43 5h1v1h-1zM48 5h1v1h-1zM52 5h4v1h-4zM59 5h5v1h-5zM69 5h1v1h-1zM75 5h1v1h-1zM81 5h1v1h-1zM3 6h1v1h-1zM8 6h1v1h-1zM13 6h1v1h-1zM16 6h1v1h-1zM22 6h1v1h-1zM32 6h1v1h-1zM36 6h1v1h-1zM39 6h1v1h-1zM43 6h1v1h-1zM48 6h1v1h-1zM58 6h1v1h-1zM64 6h1v1h-1zM69 6h1v1h-1zM74 6h1v1h-1zM81 6h1v1h-1zM3 7h1v1h-1zM8 7h1v1h-1zM13 7h1v1h-1zM17 7h1v1h-1zM21 7h2v1h-2zM32 7h1v1h-1zM36 7h1v1h-1zM39 7h1v1h-1zM43 7h1v1h-1zM48 7h1v1h-1zM58 7h1v1h-1zM64 7h1v1h-1zM69 7h1v1h-1zM74 7h1v1h-1zM81 7h1v1h-1zM3 8h1v1h-1zM9 8h4v1h-4zM18 8h3v1h-3zM22 8h1v1h-1zM25 8h1v1h-1zM33 8h3v1h-3zM40 8h3v1h-3zM48 8h1v1h-1zM58 8h1v1h-1zM64 8h1v1h-1zM69 8h1v1h-1zM74 8h5v1h-5zM81 8h1v1h-1z"/><path id="s27" d="M0 0h7v1h-7zM9 0h4v1h-4zM18 0h4v1h-4zM33 0h4v1h-4zM41 0h3v1h-3zM47 0h1v1h-1zM53 0h1v1h-1zM62 0h3v1h-3zM69 0h3v1h-3zM77 0h1v1h-1zM83 0h3v1h-3zM3 1h1v1h-1zM8 1h1v1h-1zM13 1h1v1h-1zM17 1h1v1h-1zM22 1h1v1h-1zM32 1h1v1h-1zM37 1h1v1h-1zM40 1h1v1h-1zM44 1h1v1h-1zM47 1h2v1h-2zM53 1h1v1h-1zM61 1h1v1h-1zM65 1h1v1h-1zM68 1h1v1h-1zM72 1h1v1h-1zM75 1h3v1h-3zM82 1h1v1h-1zM86 1h1v1h-1zM3 2h1v1h-1zM8 2h1v1h-1zM16 2h1v1h-1zM32 2h1v1h-1zM44 2h1v1h-1zM47 2h1v1h-1zM49 2h1v1h-1zM53 2h1v1h-1zM65 2h1v1h-1zM68 2h1v1h-1zM72 2h1v1h-1zM77 2h1v1h-1zM86 2h1v1h-1zM3 3h1v1h-1zM9 3h2v1h-2zM16 3h1v1h-1zM25 3h1v1h-1zM33 3h2v1h-2zM43 3h1v1h-1zM47 3h1v1h-1zM49 3h1v1h-1zM53 3h1v1h-1zM64 3h1v1h-1zM68 3h1v1h-1zM72 3h1v1h-1zM77 3h1v1h-1zM85 3h1v1h-1zM3 4h1v1h-1zM11 4h2v1h-2zM16 4h1v1h-1zM20 4h3v1h-3zM35 4h2v1h-2zM42 4h1v1h-1zM47 4h1v1h-1zM50 4h1v1h-1zM53 4h1v1h-1zM63 4h1v1h-1zM68 4h1v1h-1zM72 4h1v1h-1zM77 4h1v1h-1zM84 4h1v1h-1zM3 5h1v1h-1zM13 5h1v1h-1zM16 5h1v1h-1zM22 5h1v1h-1zM37 5h1v1h-1zM41 5h1v1h-1zM47 5h1v1h-1zM51 5h1v1h-1zM53 5h1v1h-1zM55 5h4v1h-4zM62 5h1v1h-1zM68 5h1v1h-1zM72 5h1v1h-1zM77 5h1v1h-1zM83 5h1v1h-1zM3 6h1v1h-1zM8 6h1v1h-1zM13 6h1v1h-1zM16 6h1v1h-1zM22 6h1v1h-1zM32 6h1v1h-1zM37 6h1v1h-1zM40 6h1v1h-1zM47 6h1v1h-1zM51 6h1v1h-1zM53 6h1v1h-1zM61 6h1v1h-1zM68 6h1v1h-1zM72 6h1v1h-1zM77 6h1v1h-1zM82 6h1v1h-1zM3 7h1v1h-1zM8 7h1v1h-1zM13 7h1v1h-1zM17 7h1v1h-1zM21 7h2v1h-2zM32 7h1v1h-1zM37 7h1v1h-1zM40 7h1v1h-1zM47 7h1v1h-1zM52 7h2v1h-2zM61 7h1v1h-1zM68 7h1v1h-1zM72 7h1v1h-1zM77 7h1v1h-1zM82 7h1v1h-1zM3 8h1v1h-1zM9 8h4v1h-4zM18 8h3v1h-3zM22 8h1v1h-1zM25 8h1v1h-1zM33 8h4v1h-4zM40 8h5v1h-5zM47 8h1v1h-1zM53 8h1v1h-1zM61 8h5v1h-5zM69 8h3v1h-3zM77 8h1v1h-1zM82 8h5v1h-5z"/><path id="s28" d="M0 0h7v1h-7zM9 0h4v1h-4zM18 0h4v1h-4zM32 0h1v1h-1zM38 0h1v1h-1zM42 0h3v1h-3zM49 0h4v1h-4zM62 0h3v1h-3zM69 0h3v1h-3zM77 0h1v1h-1zM83 0h3v1h-3zM3 1h1v1h-1zM8 1h1v1h-1zM13 1h1v1h-1zM17 1h1v1h-1zM22 1h1v1h-1zM32 1h2v1h-2zM38 1h1v1h-1zM41 1h1v1h-1zM45 1h1v1h-1zM48 1h1v1h-1zM53 1h1v1h-1zM61 1h1v1h-1zM65 1h1v1h-1zM68 1h1v1h-1zM72 1h1v1h-1zM75 1h3v1h-3zM82 1h1v1h-1zM86 1h1v1h-1zM3 2h1v1h-1zM8 2h1v1h-1zM16 2h1v1h-1zM32 2h1v1h-1zM34 2h1v1h-1zM38 2h1v1h-1zM45 2h1v1h-1zM48 2h1v1h-1zM65 2h1v1h-1zM68 2h1v1h-1zM72 2h1v1h-1zM77 2h1v1h-1zM86 2h1v1h-1zM3 3h1v1h-1zM9 3h2v1h-2zM16 3h1v1h-1zM25 3h1v1h-1zM32 3h1v1h-1zM34 3h1v1h-1zM38 3h1v1h-1zM44 3h1v1h-1zM49 3h2v1h-2zM64 3h1v1h-1zM68 3h1v1h-1zM72 3h1v1h-1zM77 3h1v1h-1zM85 3h1v1h-1zM3 4h1v1h-1zM11 4h2v1h-2zM16 4h1v1h-1zM20 4h3v1h-3zM32 4h1v1h-1zM35 4h1v1h-1zM38 4h1v1h-1zM43 4h1v1h-1zM51 4h2v1h-2zM63 4h1v1h-1zM68 4h1v1h-1zM72 4h1v1h-1zM77 4h1v1h-1zM84 4h1v1h-1zM3 5h1v1h-1zM13 5h1v1h-1zM16 5h1v1h-1zM22 5h1v1h-1zM32 5h1v1h-1zM36 5h1v1h-1zM38 5h1v1h-1zM42 5h1v1h-1zM53 5h1v1h-1zM55 5h4v1h-4zM62 5h1v1h-1zM68 5h1v1h-1zM72 5h1v1h-1zM77 5h1v1h-1zM83 5h1v1h-1zM3 6h1v1h-1zM8 6h1v1h-1zM13 6h1v1h-1zM16 6h1v1h-1zM22 6h1v1h-1zM32 6h1v1h-1zM36 6h1v1h-1zM38 6h1v1h-1zM41 6h1v1h-1zM48 6h1v1h-1zM53 6h1v1h-1zM61 6h1v1h-1zM68 6h1v1h-1zM72 6h1v1h-1zM77 6h1v1h-1zM82 6h1v1h-1zM3 7h1v1h-1zM8 7h1v1h-1zM13 7h1v1h-1zM17 7h1v1h-1zM21 7h2v1h-2zM32 7h1v1h-1zM37 7h2v1h-2zM41 7h1v1h-1zM48 7h1v1h-1zM53 7h1v1h-1zM61 7h1v1h-1zM68 7h1v1h-1zM72 7h1v1h-1zM77 7h1v1h-1zM82 7h1v1h-1zM3 8h1v1h-1zM9 8h4v1h-4zM18 8h3v1h-3zM22 8h1v1h-1zM25 8h1v1h-1zM32 8h1v1h-1zM38 8h1v1h-1zM41 8h5v1h-5zM49 8h4v1h-4zM61 8h5v1h-5zM69 8h3v1h-3zM77 8h1v1h-1zM82 8h5v1h-5z"/></defs>
<rect x="0" y="0" width="1200" height="901" fill="#fff"/>
<path d="M498 9h3v1h-3zM509 9h3v1h-3zM514 9h3v1h-3zM727 9h3v1h-3zM753 9h3v1h-3zM497 10h3v1h-3zM509 10h3v1h-3zM514 10h3v1h-3zM530 10h3v1h-3zM585 10h3v1h-3zM653 10h3v1h-3zM672 10h3v1h-3zM693 10h5v1h-5zM704 10h3v1h-3zM714 10h3v1h-3zM727 10h3v1h-3zM754 10h3v1h-3zM497 11h2v1h-2zM509 11h3v1h-3zM514 11h3v1h-3zM530 11h3v1h-3zM585 11h3v1h-3zM653 11h3v1h-3zM670 11h7v1h-7zM692 11h7v1h-7zM702 11h7v1h-7zM712 11h7v1h-7zM727 11h3v1h-3zM755 11h2v1h-2zM496 12h3v1h-3zM509 12h3v1h-3zM530 12h3v1h-3zM585 12h3v1h-3zM653 12h3v1h-3zM670 12h3v1h-3zM674 12h3v1h-3zM691 12h3v1h-3zM697 12h3v1h-3zM702 12h3v1h-3zM706 12h3v1h-3zM712 12h3v1h-3zM716 12h3v1h-3zM727 12h3v1h-3zM755 12h3v1h-3zM440 13h3v1h-3zM444 13h4v1h-4zM450 13h4v1h-4zM460 13h4v1h-4zM470 13h5v1h-5zM479 13h3v1h-3zM483 13h4v1h-4zM496 13h2v1h-2zM504 13h4v1h-4zM509 13h3v1h-3zM514 13h3v1h-3zM521 13h6v1h-6zM529 13h6v1h-6zM538 13h5v1h-5zM547 13h3v1h-3zM551 13h4v1h-4zM561 13h4v1h-4zM572 13h4v1h-4zM584 13h6v1h-6zM594 13h4v1h-4zM611 13h4v1h-4zM622 13h4v1h-4zM633 13h5v1h-5zM644 13h6v1h-6zM652 13h6v1h-6zM659 13h3v1h-3zM669 13h3v1h-3zM675 13h3v1h-3zM691 13h3v1h-3zM697 13h3v1h-3zM701 13h3v1h-3zM707 13h3v1h-3zM711 13h3v1h-3zM717 13h3v1h-3zM727 13h3v1h-3zM732 13h3v1h-3zM737 13h3v1h-3zM741 13h4v1h-4zM747 13h4v1h-4zM756 13h2v1h-2zM440 14h15v1h-15zM458 14h7v1h-7zM469 14h7v1h-7zM479 14h9v1h-9zM495 14h3v1h-3zM503 14h9v1h-9zM514 14h3v1h-3zM520 14h8v1h-8zM529 14h6v1h-6zM537 14h7v1h-7zM547 14h9v1h-9zM559 14h8v1h-8zM570 14h7v1h-7zM584 14h6v1h-6zM592 14h8v1h-8zM609 14h8v1h-8zM620 14h8v1h-8zM632 14h7v1h-7zM643 14h8v1h-8zM652 14h6v1h-6zM659 14h3v1h-3zM669 14h3v1h-3zM675 14h3v1h-3zM697 14h3v1h-3zM701 14h3v1h-3zM707 14h3v1h-3zM711 14h3v1h-3zM717 14h3v1h-3zM727 14h3v1h-3zM731 14h3v1h-3zM737 14h15v1h-15zM756 14h3v1h-3zM440 15h4v1h-4zM446 15h4v1h-4zM452 15h3v1h-3zM458 15h3v1h-3zM463 15h3v1h-3zM469 15h2v1h-2zM474 15h3v1h-3zM479 15h4v1h-4zM485 15h3v1h-3zM495 15h3v1h-3zM503 15h3v1h-3zM508 15h4v1h-4zM514 15h3v1h-3zM519 15h3v1h-3zM525 15h3v1h-3zM530 15h3v1h-3zM537 15h2v1h-2zM542 15h3v1h-3zM547 15h4v1h-4zM553 15h3v1h-3zM559 15h3v1h-3zM564 15h3v1h-3zM570 15h3v1h-3zM575 15h3v1h-3zM585 15h3v1h-3zM592 15h3v1h-3zM597 15h3v1h-3zM609 15h3v1h-3zM614 15h3v1h-3zM620 15h3v1h-3zM625 15h3v1h-3zM632 15h2v1h-2zM637 15h3v1h-3zM642 15h3v1h-3zM648 15h3v1h-3zM653 15h3v1h-3zM659 15h3v1h-3zM669 15h3v1h-3zM675 15h3v1h-3zM696 15h3v1h-3zM701 15h3v1h-3zM707 15h3v1h-3zM711 15h3v1h-3zM717 15h3v1h-3zM727 15h6v1h-6zM737 15h4v1h-4zM743 15h4v1h-4zM749 15h3v1h-3zM756 15h3v1h-3zM440 16h3v1h-3zM446 16h3v1h-3zM452 16h3v1h-3zM457 16h3v1h-3zM464 16h2v1h-2zM473 16h4v1h-4zM479 16h3v1h-3zM485 16h3v1h-3zM495 16h3v1h-3zM502 16h3v1h-3zM509 16h3v1h-3zM514 16h3v1h-3zM519 16h3v1h-3zM530 16h3v1h-3zM541 16h4v1h-4zM547 16h3v1h-3zM553 16h3v1h-3zM558 16h3v1h-3zM569 16h3v1h-3zM576 16h2v1h-2zM585 16h3v1h-3zM591 16h3v1h-3zM598 16h3v1h-3zM608 16h3v1h-3zM619 16h3v1h-3zM626 16h3v1h-3zM636 16h4v1h-4zM642 16h3v1h-3zM653 16h3v1h-3zM669 16h3v1h-3zM675 16h3v1h-3zM679 16h5v1h-5zM685 16h5v1h-5zM694 16h5v1h-5zM701 16h3v1h-3zM707 16h3v1h-3zM711 16h3v1h-3zM717 16h3v1h-3zM727 16h5v1h-5zM737 16h3v1h-3zM743 16h3v1h-3zM749 16h3v1h-3zM756 16h3v1h-3zM440 17h3v1h-3zM446 17h3v1h-3zM452 17h3v1h-3zM457 17h9v1h-9zM470 17h7v1h-7zM479 17h3v1h-3zM485 17h3v1h-3zM495 17h3v1h-3zM502 17h3v1h-3zM509 17h3v1h-3zM514 17h3v1h-3zM519 17h8v1h-8zM530 17h3v1h-3zM538 17h7v1h-7zM547 17h3v1h-3zM553 17h3v1h-3zM558 17h3v1h-3zM569 17h9v1h-9zM585 17h3v1h-3zM591 17h3v1h-3zM598 17h3v1h-3zM608 17h3v1h-3zM619 17h3v1h-3zM626 17h3v1h-3zM633 17h7v1h-7zM642 17h8v1h-8zM653 17h3v1h-3zM669 17h3v1h-3zM675 17h3v1h-3zM679 17h5v1h-5zM685 17h5v1h-5zM693 17h5v1h-5zM701 17h3v1h-3zM707 17h3v1h-3zM711 17h3v1h-3zM717 17h3v1h-3zM727 17h5v1h-5zM737 17h3v1h-3zM743 17h3v1h-3zM749 17h3v1h-3zM756 17h3v1h-3zM440 18h3v1h-3zM446 18h3v1h-3zM452 18h3v1h-3zM457 18h9v1h-9zM469 18h4v1h-4zM474 18h3v1h-3zM479 18h3v1h-3zM485 18h3v1h-3zM495 18h3v1h-3zM502 18h3v1h-3zM509 18h3v1h-3zM514 18h3v1h-3zM521 18h7v1h-7zM530 18h3v1h-3zM537 18h4v1h-4zM542 18h3v1h-3zM547 18h3v1h-3zM553 18h3v1h-3zM558 18h3v1h-3zM569 18h9v1h-9zM585 18h3v1h-3zM591 18h3v1h-3zM598 18h3v1h-3zM608 18h3v1h-3zM619 18h3v1h-3zM626 18h3v1h-3zM632 18h4v1h-4zM637 18h3v1h-3zM644 18h7v1h-7zM653 18h3v1h-3zM669 18h3v1h-3zM675 18h3v1h-3zM679 18h5v1h-5zM685 18h5v1h-5zM692 18h4v1h-4zM701 18h3v1h-3zM707 18h3v1h-3zM711 18h3v1h-3zM717 18h3v1h-3zM727 18h6v1h-6zM737 18h3v1h-3zM743 18h3v1h-3zM749 18h3v1h-3zM756 18h3v1h-3zM440 19h3v1h-3zM446 19h3v1h-3zM452 19h3v1h-3zM457 19h3v1h-3zM468 19h3v1h-3zM474 19h3v1h-3zM479 19h3v1h-3zM485 19h3v1h-3zM495 19h3v1h-3zM502 19h3v1h-3zM509 19h3v1h-3zM514 19h3v1h-3zM525 19h3v1h-3zM530 19h3v1h-3zM536 19h3v1h-3zM542 19h3v1h-3zM547 19h3v1h-3zM553 19h3v1h-3zM558 19h3v1h-3zM569 19h3v1h-3zM585 19h3v1h-3zM591 19h3v1h-3zM598 19h3v1h-3zM608 19h3v1h-3zM619 19h3v1h-3zM626 19h3v1h-3zM631 19h3v1h-3zM637 19h3v1h-3zM648 19h3v1h-3zM653 19h3v1h-3zM669 19h3v1h-3zM675 19h3v1h-3zM692 19h3v1h-3zM701 19h3v1h-3zM707 19h3v1h-3zM711 19h3v1h-3zM717 19h3v1h-3zM727 19h3v1h-3zM731 19h3v1h-3zM737 19h3v1h-3zM743 19h3v1h-3zM749 19h3v1h-3zM756 19h3v1h-3zM440 20h3v1h-3zM446 20h3v1h-3zM452 20h3v1h-3zM458 20h3v1h-3zM463 20h3v1h-3zM468 20h3v1h-3zM473 20h4v1h-4zM479 20h3v1h-3zM485 20h3v1h-3zM495 20h3v1h-3zM503 20h3v1h-3zM508 20h4v1h-4zM514 20h3v1h-3zM519 20h3v1h-3zM525 20h3v1h-3zM530 20h3v1h-3zM536 20h3v1h-3zM541 20h4v1h-4zM547 20h3v1h-3zM553 20h3v1h-3zM559 20h3v1h-3zM564 20h3v1h-3zM570 20h3v1h-3zM575 20h3v1h-3zM585 20h3v1h-3zM592 20h3v1h-3zM597 20h3v1h-3zM609 20h3v1h-3zM614 20h3v1h-3zM620 20h3v1h-3zM625 20h3v1h-3zM631 20h3v1h-3zM636 20h4v1h-4zM642 20h3v1h-3zM648 20h3v1h-3zM653 20h3v1h-3zM659 20h3v1h-3zM670 20h3v1h-3zM674 20h3v1h-3zM691 20h3v1h-3zM702 20h3v1h-3zM706 20h3v1h-3zM712 20h3v1h-3zM716 20h3v1h-3zM727 20h3v1h-3zM732 20h3v1h-3zM737 20h3v1h-3zM743 20h3v1h-3zM749 20h3v1h-3zM756 20h3v1h-3zM440 21h3v1h-3zM446 21h3v1h-3zM452 21h3v1h-3zM458 21h8v1h-8zM468 21h5v1h-5zM474 21h3v1h-3zM479 21h3v1h-3zM485 21h3v1h-3zM495 21h3v1h-3zM503 21h9v1h-9zM514 21h3v1h-3zM519 21h8v1h-8zM530 21h5v1h-5zM536 21h5v1h-5zM542 21h3v1h-3zM547 21h3v1h-3zM553 21h3v1h-3zM559 21h8v1h-8zM570 21h8v1h-8zM585 21h5v1h-5zM592 21h8v1h-8zM609 21h8v1h-8zM620 21h8v1h-8zM631 21h5v1h-5zM637 21h3v1h-3zM642 21h8v1h-8zM653 21h5v1h-5zM659 21h3v1h-3zM670 21h7v1h-7zM691 21h9v1h-9zM702 21h7v1h-7zM712 21h7v1h-7zM727 21h3v1h-3zM732 21h4v1h-4zM737 21h3v1h-3zM743 21h3v1h-3zM749 21h3v1h-3zM756 21h3v1h-3zM440 22h3v1h-3zM446 22h3v1h-3zM452 22h3v1h-3zM460 22h4v1h-4zM469 22h4v1h-4zM474 22h4v1h-4zM479 22h3v1h-3zM485 22h3v1h-3zM496 22h2v1h-2zM504 22h4v1h-4zM509 22h3v1h-3zM514 22h3v1h-3zM520 22h6v1h-6zM531 22h4v1h-4zM537 22h4v1h-4zM542 22h4v1h-4zM547 22h3v1h-3zM553 22h3v1h-3zM561 22h4v1h-4zM572 22h4v1h-4zM586 22h4v1h-4zM594 22h4v1h-4zM611 22h4v1h-4zM622 22h4v1h-4zM632 22h4v1h-4zM637 22h4v1h-4zM643 22h6v1h-6zM654 22h4v1h-4zM659 22h3v1h-3zM672 22h3v1h-3zM691 22h9v1h-9zM704 22h3v1h-3zM714 22h3v1h-3zM727 22h3v1h-3zM733 22h3v1h-3zM737 22h3v1h-3zM743 22h3v1h-3zM749 22h3v1h-3zM756 22h2v1h-2zM496 23h3v1h-3zM755 23h3v1h-3zM497 24h2v1h-2zM755 24h2v1h-2zM497 25h3v1h-3zM754 25h3v1h-3zM498 26h3v1h-3zM753 26h3v1h-3z"/>
<g><rect x="156" y="68" width="393" height="1" fill="#000"/><rect x="156" y="164" width="393" height="1" fill="#000"/><rect x="156" y="68" width="1" height="97" fill="#000"/><rect x="548" y="68" width="1" height="97" fill="#000"/><rect x="157" y="80" width="3" height="1" fill="#000"/><rect x="544" y="80" width="4" height="1" fill="#000"/><rect x="157" y="92" width="3" height="1" fill="#000"/><rect x="544" y="92" width="4" height="1" fill="#000"/><rect x="157" y="104" width="3" height="1" fill="#000"/><rect x="544" y="104" width="4" height="1" fill="#000"/><rect x="157" y="116" width="3" height="1" fill="#000"/><rect x="544" y="116" width="4" height="1" fill="#000"/><rect x="157" y="128" width="3" height="1" fill="#000"/><rect x="544" y="128" width="4" height="1" fill="#000"/><rect x="157" y="140" width="3" height="1" fill="#000"/><rect x="544" y="140" width="4" height="1" fill="#000"/><rect x="157" y="152" width="3" height="1" fill="#000"/><rect x="544" y="152" width="4" height="1" fill="#000"/><rect x="199" y="69" width="1" height="3" fill="#000"/><rect x="199" y="160" width="1" height="4" fill="#000"/><rect x="243" y="69" width="1" height="3" fill="#000"/><rect x="243" y="160" width="1" height="4" fill="#000"/><rect x="286" y="69" width="1" height="3" fill="#000"/><rect x="286" y="160" width="1" height="4" fill="#000"/><rect x="330" y="69" width="1" height="3" fill="#000"/><rect x="330" y="160" width="1" height="4" fill="#000"/><rect x="373" y="69" width="1" height="3" fill="#000"/><rect x="373" y="160" width="1" height="4" fill="#000"/><rect x="417" y="69" width="1" height="3" fill="#000"/><rect x="417" y="160" width="1" height="4" fill="#000"/><rect x="460" y="69" width="1" height="3" fill="#000"/><rect x="460" y="160" width="1" height="4" fill="#000"/><rect x="504" y="69" width="1" height="3" fill="#000"/><rect x="504" y="160" width="1" height="4" fill="#000"/><rect x="194.5" y="144.5" width="10" height="10" fill="none" stroke="#000000" stroke-width="1"/><rect x="238.5" y="111.5" width="10" height="10" fill="none" stroke="#0000ff" stroke-width="1"/><rect x="281.5" y="110.5" width="10" height="10" fill="none" stroke="#ff0000" stroke-width="1"/><rect x="325.5" y="108.5" width="10" height="10" fill="none" stroke="#ff0000" stroke-width="1"/><rect x="368.5" y="111.5" width="10" height="10" fill="none" stroke="#ff8c00" stroke-width="1"/><rect x="412.5" y="110.5" width="10" height="10" fill="none" stroke="#ff8c00" stroke-width="1"/><rect x="455.5" y="119.5" width="10" height="10" fill="none" stroke="#228b22" stroke-width="1"/><rect x="499.5" y="122.5" width="10" height="10" fill="none" stroke="#228b22" stroke-width="1"/><line x1="156" y1="116.5" x2="548" y2="116.5" stroke="#000" stroke-width="1" stroke-dasharray="10 4" stroke-dashoffset="10"/><use href="#s8" x="143" y="64"/><use href="#s9" x="133" y="76"/><use href="#s10" x="143" y="88"/><use href="#s11" x="133" y="100"/><use href="#s12" x="143" y="112"/><use href="#s13" x="128" y="124"/><use href="#s14" x="138" y="136"/><use href="#s15" x="128" y="148"/><use href="#s16" x="138" y="160"/><use href="#s0" x="192" y="174"/><use href="#s1" x="229" y="174"/><use href="#s2" x="276" y="174"/><use href="#s3" x="320" y="174"/><use href="#s4" x="363" y="174"/><use href="#s5" x="410" y="174"/><use href="#s6" x="447" y="174"/><use href="#s7" x="491" y="174"/><use href="#s17" transform="translate(107,160) rotate(-90)"/></g>
<g><rect x="694" y="68" width="393" height="1" fill="#000"/><rect x="694" y="164" width="393" height="1" fill="#000"/><rect x="694" y="68" width="1" height="97" fill="#000"/><rect x="1086" y="68" width="1" height="97" fill="#000"/><rect x="695" y="80" width="3" height="1" fill="#000"/><rect x="1082" y="80" width="4" height="1" fill="#000"/><rect x="695" y="92" width="3" height="1" fill="#000"/><rect x="1082" y="92" width="4" height="1" fill="#000"/><rect x="695" y="104" width="3" height="1" fill="#000"/><rect x="1082" y="104" width="4" height="1" fill="#000"/><rect x="695" y="116" width="3" height="1" fill="#000"/><rect x="1082" y="116" width="4" height="1" fill="#000"/><rect x="695" y="128" width="3" height="1" fill="#000"/><rect x="1082" y="128" width="4" height="1" fill="#000"/><rect x="695" y="140" width="3" height="1" fill="#000"/><rect x="1082" y="140" width="4" height="1" fill="#000"/><rect x="695" y="152" width="3" height="1" fill="#000"/><rect x="1082" y="152" width="4" height="1" fill="#000"/><rect x="737" y="69" width="1" height="3" fill="#000"/><rect x="737" y="160" width="1" height="4" fill="#000"/><rect x="781" y="69" width="1" height="3" fill="#000"/><rect x="781" y="160" width="1" height="4" fill="#000"/><rect x="824" y="69" width="1" height="3" fill="#000"/><rect x="824" y="160" width="1" height="4" fill="#000"/><rect x="868" y="69" width="1" height="3" fill="#000"/><rect x="868" y="160" width="1" height="4" fill="#000"/><rect x="911" y="69" width="1" height="3" fill="#000"/><rect x="911" y="160" width="1" height="4" fill="#000"/><rect x="955" y="69" width="1" height="3" fill="#000"/><rect x="955" y="160" width="1" height="4" fill="#000"/><rect x="998" y="69" width="1" height="3" fill="#000"/><rect x="998" y="160" width="1" height="4" fill="#000"/><rect x="1042" y="69" width="1" height="3" fill="#000"/><rect x="1042" y="160" width="1" height="4" fill="#000"/><rect x="732.5" y="157.5" width="10" height="10" fill="none" stroke="#000000" stroke-width="1"/><rect x="776.5" y="114.5" width="10" height="10" fill="none" stroke="#0000ff" stroke-width="1"/><rect x="819.5" y="120.5" width="10" height="10" fill="none" stroke="#ff0000" stroke-width="1"/><rect x="863.5" y="115.5" width="10" height="10" fill="none" stroke="#ff0000" stroke-width="1"/><rect x="906.5" y="118.5" width="10" height="10" fill="none" stroke="#ff8c00" stroke-width="1"/><rect x="950.5" y="118.5" width="10" height="10" fill="none" stroke="#ff8c00" stroke-width="1"/><rect x="993.5" y="129.5" width="10" height="10" fill="none" stroke="#228b22" stroke-width="1"/><rect x="1037.5" y="130.5" width="10" height="10" fill="none" stroke="#228b22" stroke-width="1"/><line x1="694" y1="116.5" x2="1086" y2="116.5" stroke="#000" stroke-width="1" stroke-dasharray="10 4" stroke-dashoffset="10"/><use href="#s8" x="681" y="64"/><use href="#s9" x="671" y="76"/><use href="#s10" x="681" y="88"/><use href="#s11" x="671" y="100"/><use href="#s12" x="681" y="112"/><use href="#s13" x="666" y="124"/><use href="#s14" x="676" y="136"/><use href="#s15" x="666" y="148"/><use href="#s16" x="676" y="160"/><use href="#s0" x="730" y="174"/><use href="#s1" x="767" y="174"/><use href="#s2" x="814" y="174"/><use href="#s3" x="858" y="174"/><use href="#s4" x="901" y="174"/><use href="#s5" x="948" y="174"/><use href="#s6" x="985" y="174"/><use href="#s7" x="1029" y="174"/><use href="#s18" transform="translate(645,161) rotate(-90)"/></g>
<g><rect x="156" y="195" width="393" height="1" fill="#000"/><rect x="156" y="292" width="393" height="1" fill="#000"/><rect x="156" y="195" width="1" height="98" fill="#000"/><rect x="548" y="195" width="1" height="98" fill="#000"/><rect x="157" y="207" width="3" height="1" fill="#000"/><rect x="544" y="207" width="4" height="1" fill="#000"/><rect x="157" y="219" width="3" height="1" fill="#000"/><rect x="544" y="219" width="4" height="1" fill="#000"/><rect x="157" y="231" width="3" height="1" fill="#000"/><rect x="544" y="231" width="4" height="1" fill="#000"/><rect x="157" y="243" width="3" height="1" fill="#000"/><rect x="544" y="243" width="4" height="1" fill="#000"/><rect x="157" y="255" width="3" height="1" fill="#000"/><rect x="544" y="255" width="4" height="1" fill="#000"/><rect x="157" y="267" width="3" height="1" fill="#000"/><rect x="544" y="267" width="4" height="1" fill="#000"/><rect x="157" y="279" width="3" height="1" fill="#000"/><rect x="544" y="279" width="4" height="1" fill="#000"/><rect x="199" y="196" width="1" height="3" fill="#000"/><rect x="199" y="288" width="1" height="4" fill="#000"/><rect x="243" y="196" width="1" height="3" fill="#000"/><rect x="243" y="288" width="1" height="4" fill="#000"/><rect x="286" y="196" width="1" height="3" fill="#000"/><rect x="286" y="288" width="1" height="4" fill="#000"/><rect x="330" y="196" width="1" height="3" fill="#000"/><rect x="330" y="288" width="1" height="4" fill="#000"/><rect x="373" y="196" width="1" height="3" fill="#000"/><rect x="373" y="288" width="1" height="4" fill="#000"/><rect x="417" y="196" width="1" height="3" fill="#000"/><rect x="417" y="288" width="1" height="4" fill="#000"/><rect x="460" y="196" width="1" height="3" fill="#000"/><rect x="460" y="288" width="1" height="4" fill="#000"/><rect x="504" y="196" width="1" height="3" fill="#000"/><rect x="504" y="288" width="1" height="4" fill="#000"/><rect x="194.5" y="284.5" width="10" height="10" fill="none" stroke="#000000" stroke-width="1"/><rect x="238.5" y="238.5" width="10" height="10" fill="none" stroke="#0000ff" stroke-width="1"/><rect x="281.5" y="240.5" width="10" height="10" fill="none" stroke="#ff0000" stroke-width="1"/><rect x="325.5" y="241.5" width="10" height="10" fill="none" stroke="#ff0000" stroke-width="1"/><rect x="368.5" y="244.5" width="10" height="10" fill="none" stroke="#ff8c00" stroke-width="1"/><rect x="412.5" y="243.5" width="10" height="10" fill="none" stroke="#ff8c00" stroke-width="1"/><rect x="455.5" y="251.5" width="10" height="10" fill="none" stroke="#228b22" stroke-width="1"/><rect x="499.5" y="255.5" width="10" height="10" fill="none" stroke="#228b22" stroke-width="1"/><line x1="156" y1="243.5" x2="548" y2="243.5" stroke="#000" stroke-width="1" stroke-dasharray="10 4" stroke-dashoffset="10"/><use href="#s8" x="143" y="191"/><use href="#s9" x="133" y="203"/><use href="#s10" x="143" y="215"/><use href="#s11" x="133" y="227"/><use href="#s12" x="143" y="239"/><use href="#s13" x="128" y="251"/><use href="#s14" x="138" y="263"/><use href="#s15" x="128" y="275"/><use href="#s16" x="138" y="288"/><use href="#s0" x="192" y="302"/><use href="#s1" x="229" y="302"/><use href="#s2" x="276" y="302"/><use href="#s3" x="320" y="302"/><use href="#s4" x="363" y="302"/><use href="#s5" x="410" y="302"/><use href="#s6" x="447" y="302"/><use href="#s7" x="491" y="302"/><use href="#s19" transform="translate(107,285) rotate(-90)"/></g>
<g><rect x="694" y="195" width="393" height="1" fill="#000"/><rect x="694" y="292" width="393" height="1" fill="#000"/><rect x="694" y="195" width="1" height="98" fill="#000"/><rect x="1086" y="195" width="1" height="98" fill="#000"/><rect x="695" y="207" width="3" height="1" fill="#000"/><rect x="1082" y="207" width="4" height="1" fill="#000"/><rect x="695" y="219" width="3" height="1" fill="#000"/><rect x="1082" y="219" width="4" height="1" fill="#000"/><rect x="695" y="231" width="3" height="1" fill="#000"/><rect x="1082" y="231" width="4" height="1" fill="#000"/><rect x="695" y="243" width="3" height="1" fill="#000"/><rect x="1082" y="243" width="4" height="1" fill="#000"/><rect x="695" y="255" width="3" height="1" fill="#000"/><rect x="1082" y="255" width="4" height="1" fill="#000"/><rect x="695" y="267" width="3" height="1" fill="#000"/><rect x="1082" y="267" width="4" height="1" fill="#000"/><rect x="695" y="279" width="3" height="1" fill="#000"/><rect x="1082" y="279" width="4" height="1" fill="#000"/><rect x="737" y="196" width="1" height="3" fill="#000"/><rect x="737" y="288" width="1" height="4" fill="#000"/><rect x="781" y="196" width="1" height="3" fill="#000"/><rect x="781" y="288" width="1" height="4" fill="#000"/><rect x="824" y="196" width="1" height="3" fill="#000"/><rect x="824" y="288" width="1" height="4" fill="#000"/><rect x="868" y="196" width="1" height="3" fill="#000"/><rect x="868" y="288" width="1" height="4" fill="#000"/><rect x="911" y="196" width="1" height="3" fill="#000"/><rect x="911" y="288" width="1" height="4" fill="#000"/><rect x="955" y="196" width="1" height="3" fill="#000"/><rect x="955" y="288" width="1" height="4" fill="#000"/><rect x="998" y="196" width="1" height="3" fill="#000"/><rect x="998" y="288" width="1" height="4" fill="#000"/><rect x="1042" y="196" width="1" height="3" fill="#000"/><rect x="1042" y="288" width="1" height="4" fill="#000"/><rect x="732.5" y="269.5" width="10" height="10" fill="none" stroke="#000000" stroke-width="1"/><rect x="776.5" y="237.5" width="10" height="10" fill="none" stroke="#0000ff" stroke-width="1"/><rect x="819.5" y="241.5" width="10" height="10" fill="none" stroke="#ff0000" stroke-width="1"/><rect x="863.5" y="232.5" width="10" height="10" fill="none" stroke="#ff0000" stroke-width="1"/><rect x="906.5" y="238.5" width="10" height="10" fill="none" stroke="#ff8c00" stroke-width="1"/><rect x="950.5" y="240.5" width="10" height="10" fill="none" stroke="#ff8c00" stroke-width="1"/><rect x="993.5" y="245.5" width="10" height="10" fill="none" stroke="#228b22" stroke-width="1"/><rect x="1037.5" y="248.5" width="10" height="10" fill="none" stroke="#228b22" stroke-width="1"/><line x1="694" y1="243.5" x2="1086" y2="243.5" stroke="#000" stroke-width="1" stroke-dasharray="10 4" stroke-dashoffset="10"/><use href="#s8" x="681" y="191"/><use href="#s9" x="671" y="203"/><use href="#s10" x="681" y="215"/><use href="#s11" x="671" y="227"/><use href="#s12" x="681" y="239"/><use href="#s13" x="666" y="251"/><use href="#s14" x="676" y="263"/><use href="#s15" x="666" y="275"/><use href="#s16" x="676" y="288"/><use href="#s0" x="730" y="302"/><use href="#s1" x="767" y="302"/><use href="#s2" x="814" y="302"/><use href="#s3" x="858" y="302"/><use href="#s4" x="901" y="302"/><use href="#s5" x="948" y="302"/><use href="#s6" x="985" y="302"/><use href="#s7" x="1029" y="302"/><use href="#s20" transform="translate(645,286) rotate(-90)"/></g>
<g><rect x="156" y="323" width="393" height="1" fill="#000"/><rect x="156" y="419" width="393" height="1" fill="#000"/><rect x="156" y="323" width="1" height="97" fill="#000"/><rect x="548" y="323" width="1" height="97" fill="#000"/><rect x="157" y="335" width="3" height="1" fill="#000"/><rect x="544" y="335" width="4" height="1" fill="#000"/><rect x="157" y="347" width="3" height="1" fill="#000"/><rect x="544" y="347" width="4" height="1" fill="#000"/><rect x="157" y="359" width="3" height="1" fill="#000"/><rect x="544" y="359" width="4" height="1" fill="#000"/><rect x="157" y="371" width="3" height="1" fill="#000"/><rect x="544" y="371" width="4" height="1" fill="#000"/><rect x="157" y="383" width="3" height="1" fill="#000"/><rect x="544" y="383" width="4" height="1" fill="#000"/><rect x="157" y="395" width="3" height="1" fill="#000"/><rect x="544" y="395" width="4" height="1" fill="#000"/><rect x="157" y="407" width="3" height="1" fill="#000"/><rect x="544" y="407" width="4" height="1" fill="#000"/><rect x="199" y="324" width="1" height="3" fill="#000"/><rect x="199" y="415" width="1" height="4" fill="#000"/><rect x="243" y="324" width="1" height="3" fill="#000"/><rect x="243" y="415" width="1" height="4" fill="#000"/><rect x="286" y="324" width="1" height="3" fill="#000"/><rect x="286" y="415" width="1" height="4" fill="#000"/><rect x="330" y="324" width="1" height="3" fill="#000"/><rect x="330" y="415" width="1" height="4" fill="#000"/><rect x="373" y="324" width="1" height="3" fill="#000"/><rect x="373" y="415" width="1" height="4" fill="#000"/><rect x="417" y="324" width="1" height="3" fill="#000"/><rect x="417" y="415" width="1" height="4" fill="#000"/><rect x="460" y="324" width="1" height="3" fill="#000"/><rect x="460" y="415" width="1" height="4" fill="#000"/><rect x="504" y="324" width="1" height="3" fill="#000"/><rect x="504" y="415" width="1" height="4" fill="#000"/><rect x="194.5" y="389.5" width="10" height="10" fill="none" stroke="#000000" stroke-width="1"/><rect x="238.5" y="359.5" width="10" height="10" fill="none" stroke="#0000ff" stroke-width="1"/><rect x="281.5" y="360.5" width="10" height="10" fill="none" stroke="#ff0000" stroke-width="1"/><rect x="325.5" y="357.5" width="10" height="10" fill="none" stroke="#ff0000" stroke-width="1"/><rect x="368.5" y="358.5" width="10" height="10" fill="none" stroke="#ff8c00" stroke-width="1"/><rect x="412.5" y="357.5" width="10" height="10" fill="none" stroke="#ff8c00" stroke-width="1"/><rect x="455.5" y="368.5" width="10" height="10" fill="none" stroke="#228b22" stroke-width="1"/><rect x="499.5" y="370.5" width="10" height="10" fill="none" stroke="#228b22" stroke-width="1"/><line x1="156" y1="371.5" x2="548" y2="371.5" stroke="#000" stroke-width="1" stroke-dasharray="10 4" stroke-dashoffset="10"/><use href="#s8" x="143" y="319"/><use href="#s9" x="133" y="331"/><use href="#s10" x="143" y="343"/><use href="#s11" x="133" y="355"/><use href="#s12" x="143" y="367"/><use href="#s13" x="128" y="379"/><use href="#s14" x="138" y="391"/><use href="#s15" x="128" y="403"/><use href="#s16" x="138" y="415"/><use href="#s0" x="192" y="429"/><use href="#s1" x="229" y="429"/><use href="#s2" x="276" y="429"/><use href="#s3" x="320" y="429"/><use href="#s4" x="363" y="429"/><use href="#s5" x="410" y="429"/><use href="#s6" x="447" y="429"/><use href="#s7" x="491" y="429"/><use href="#s21" transform="translate(107,416) rotate(-90)"/></g>
<g><rect x="694" y="323" width="393" height="1" fill="#000"/><rect x="694" y="419" width="393" height="1" fill="#000"/><rect x="694" y="323" width="1" height="97" fill="#000"/><rect x="1086" y="323" width="1" height="97" fill="#000"/><rect x="695" y="335" width="3" height="1" fill="#000"/><rect x="1082" y="335" width="4" height="1" fill="#000"/><rect x="695" y="347" width="3" height="1" fill="#000"/><rect x="1082" y="347" width="4" height="1" fill="#000"/><rect x="695" y="359" width="3" height="1" fill="#000"/><rect x="1082" y="359" width="4" height="1" fill="#000"/><rect x="695" y="371" width="3" height="1" fill="#000"/><rect x="1082" y="371" width="4" height="1" fill="#000"/><rect x="695" y="383" width="3" height="1" fill="#000"/><rect x="1082" y="383" width="4" height="1" fill="#000"/><rect x="695" y="395" width="3" height="1" fill="#000"/><rect x="1082" y="395" width="4" height="1" fill="#000"/><rect x="695" y="407" width="3" height="1" fill="#000"/><rect x="1082" y="407" width="4" height="1" fill="#000"/><rect x="737" y="324" width="1" height="3" fill="#000"/><rect x="737" y="415" width="1" height="4" fill="#000"/><rect x="781" y="324" width="1" height="3" fill="#000"/><rect x="781" y="415" width="1" height="4" fill="#000"/><rect x="824" y="324" width="1" height="3" fill="#000"/><rect x="824" y="415" width="1" height="4" fill="#000"/><rect x="868" y="324" width="1" height="3" fill="#000"/><rect x="868" y="415" width="1" height="4" fill="#000"/><rect x="911" y="324" width="1" height="3" fill="#000"/><rect x="911" y="415" width="1" height="4" fill="#000"/><rect x="955" y="324" width="1" height="3" fill="#000"/><rect x="955" y="415" width="1" height="4" fill="#000"/><rect x="998" y="324" width="1" height="3" fill="#000"/><rect x="998" y="415" width="1" height="4" fill="#000"/><rect x="1042" y="324" width="1" height="3" fill="#000"/><rect x="1042" y="415" width="1" height="4" fill="#000"/><rect x="732.5" y="396.5" width="10" height="10" fill="none" stroke="#000000" stroke-width="1"/><rect x="776.5" y="367.5" width="10" height="10" fill="none" stroke="#0000ff" stroke-width="1"/><rect x="819.5" y="368.5" width="10" height="10" fill="none" stroke="#ff0000" stroke-width="1"/><rect x="863.5" y="360.5" width="10" height="10" fill="none" stroke="#ff0000" stroke-width="1"/><rect x="906.5" y="365.5" width="10" height="10" fill="none" stroke="#ff8c00" stroke-width="1"/><rect x="950.5" y="365.5" width="10" height="10" fill="none" stroke="#ff8c00" stroke-width="1"/><rect x="993.5" y="378.5" width="10" height="10" fill="none" stroke="#228b22" stroke-width="1"/><rect x="1037.5" y="381.5" width="10" height="10" fill="none" stroke="#228b22" stroke-width="1"/><line x1="694" y1="371.5" x2="1086" y2="371.5" stroke="#000" stroke-width="1" stroke-dasharray="10 4" stroke-dashoffset="10"/><use href="#s8" x="681" y="319"/><use href="#s9" x="671" y="331"/><use href="#s10" x="681" y="343"/><use href="#s11" x="671" y="355"/><use href="#s12" x="681" y="367"/><use href="#s13" x="666" y="379"/><use href="#s14" x="676" y="391"/><use href="#s15" x="666" y="403"/><use href="#s16" x="676" y="415"/><use href="#s0" x="730" y="429"/><use href="#s1" x="767" y="429"/><use href="#s2" x="814" y="429"/><use href="#s3" x="858" y="429"/><use href="#s4" x="901" y="429"/><use href="#s5" x="948" y="429"/><use href="#s6" x="985" y="429"/><use href="#s7" x="1029" y="429"/><use href="#s22" transform="translate(645,417) rotate(-90)"/></g>
<g><rect x="156" y="450" width="393" height="1" fill="#000"/><rect x="156" y="547" width="393" height="1" fill="#000"/><rect x="156" y="450" width="1" height="98" fill="#000"/><rect x="548" y="450" width="1" height="98" fill="#000"/><rect x="157" y="462" width="3" height="1" fill="#000"/><rect x="544" y="462" width="4" height="1" fill="#000"/><rect x="157" y="474" width="3" height="1" fill="#000"/><rect x="544" y="474" width="4" height="1" fill="#000"/><rect x="157" y="486" width="3" height="1" fill="#000"/><rect x="544" y="486" width="4" height="1" fill="#000"/><rect x="157" y="498" width="3" height="1" fill="#000"/><rect x="544" y="498" width="4" height="1" fill="#000"/><rect x="157" y="510" width="3" height="1" fill="#000"/><rect x="544" y="510" width="4" height="1" fill="#000"/><rect x="157" y="522" width="3" height="1" fill="#000"/><rect x="544" y="522" width="4" height="1" fill="#000"/><rect x="157" y="534" width="3" height="1" fill="#000"/><rect x="544" y="534" width="4" height="1" fill="#000"/><rect x="199" y="451" width="1" height="3" fill="#000"/><rect x="199" y="543" width="1" height="4" fill="#000"/><rect x="243" y="451" width="1" height="3" fill="#000"/><rect x="243" y="543" width="1" height="4" fill="#000"/><rect x="286" y="451" width="1" height="3" fill="#000"/><rect x="286" y="543" width="1" height="4" fill="#000"/><rect x="330" y="451" width="1" height="3" fill="#000"/><rect x="330" y="543" width="1" height="4" fill="#000"/><rect x="373" y="451" width="1" height="3" fill="#000"/><rect x="373" y="543" width="1" height="4" fill="#000"/><rect x="417" y="451" width="1" height="3" fill="#000"/><rect x="417" y="543" width="1" height="4" fill="#000"/><rect x="460" y="451" width="1" height="3" fill="#000"/><rect x="460" y="543" width="1" height="4" fill="#000"/><rect x="504" y="451" width="1" height="3" fill="#000"/><rect x="504" y="543" width="1" height="4" fill="#000"/><rect x="194.5" y="523.5" width="10" height="10" fill="none" stroke="#000000" stroke-width="1"/><rect x="238.5" y="490.5" width="10" height="10" fill="none" stroke="#0000ff" stroke-width="1"/><rect x="281.5" y="489.5" width="10" height="10" fill="none" stroke="#ff0000" stroke-width="1"/><rect x="325.5" y="489.5" width="10" height="10" fill="none" stroke="#ff0000" stroke-width="1"/><rect x="368.5" y="491.5" width="10" height="10" fill="none" stroke="#ff8c00" stroke-width="1"/><rect x="412.5" y="490.5" width="10" height="10" fill="none" stroke="#ff8c00" stroke-width="1"/><rect x="455.5" y="497.5" width="10" height="10" fill="none" stroke="#228b22" stroke-width="1"/><rect x="499.5" y="498.5" width="10" height="10" fill="none" stroke="#228b22" stroke-width="1"/><line x1="156" y1="498.5" x2="548" y2="498.5" stroke="#000" stroke-width="1" stroke-dasharray="10 4" stroke-dashoffset="10"/><use href="#s8" x="143" y="446"/><use href="#s9" x="133" y="458"/><use href="#s10" x="143" y="470"/><use href="#s11" x="133" y="482"/><use href="#s12" x="143" y="494"/><use href="#s13" x="128" y="506"/><use href="#s14" x="138" y="518"/><use href="#s15" x="128" y="530"/><use href="#s16" x="138" y="543"/><use href="#s0" x="192" y="557"/><use href="#s1" x="229" y="557"/><use href="#s2" x="276" y="557"/><use href="#s3" x="320" y="557"/><use href="#s4" x="363" y="557"/><use href="#s5" x="410" y="557"/><use href="#s6" x="447" y="557"/><use href="#s7" x="491" y="557"/><use href="#s23" transform="translate(107,542) rotate(-90)"/></g>
<g><rect x="694" y="450" width="393" height="1" fill="#000"/><rect x="694" y="547" width="393" height="1" fill="#000"/><rect x="694" y="450" width="1" height="98" fill="#000"/><rect x="1086" y="450" width="1" height="98" fill="#000"/><rect x="695" y="462" width="3" height="1" fill="#000"/><rect x="1082" y="462" width="4" height="1" fill="#000"/><rect x="695" y="474" width="3" height="1" fill="#000"/><rect x="1082" y="474" width="4" height="1" fill="#000"/><rect x="695" y="486" width="3" height="1" fill="#000"/><rect x="1082" y="486" width="4" height="1" fill="#000"/><rect x="695" y="498" width="3" height="1" fill="#000"/><rect x="1082" y="498" width="4" height="1" fill="#000"/><rect x="695" y="510" width="3" height="1" fill="#000"/><rect x="1082" y="510" width="4" height="1" fill="#000"/><rect x="695" y="522" width="3" height="1" fill="#000"/><rect x="1082" y="522" width="4" height="1" fill="#000"/><rect x="695" y="534" width="3" height="1" fill="#000"/><rect x="1082" y="534" width="4" height="1" fill="#000"/><rect x="737" y="451" width="1" height="3" fill="#000"/><rect x="737" y="543" width="1" height="4" fill="#000"/><rect x="781" y="451" width="1" height="3" fill="#000"/><rect x="781" y="543" width="1" height="4" fill="#000"/><rect x="824" y="451" width="1" height="3" fill="#000"/><rect x="824" y="543" width="1" height="4" fill="#000"/><rect x="868" y="451" width="1" height="3" fill="#000"/><rect x="868" y="543" width="1" height="4" fill="#000"/><rect x="911" y="451" width="1" height="3" fill="#000"/><rect x="911" y="543" width="1" height="4" fill="#000"/><rect x="955" y="451" width="1" height="3" fill="#000"/><rect x="955" y="543" width="1" height="4" fill="#000"/><rect x="998" y="451" width="1" height="3" fill="#000"/><rect x="998" y="543" width="1" height="4" fill="#000"/><rect x="1042" y="451" width="1" height="3" fill="#000"/><rect x="1042" y="543" width="1" height="4" fill="#000"/><rect x="732.5" y="525.5" width="10" height="10" fill="none" stroke="#000000" stroke-width="1"/><rect x="776.5" y="491.5" width="10" height="10" fill="none" stroke="#0000ff" stroke-width="1"/><rect x="819.5" y="491.5" width="10" height="10" fill="none" stroke="#ff0000" stroke-width="1"/><rect x="863.5" y="487.5" width="10" height="10" fill="none" stroke="#ff0000" stroke-width="1"/><rect x="906.5" y="489.5" width="10" height="10" fill="none" stroke="#ff8c00" stroke-width="1"/><rect x="950.5" y="487.5" width="10" height="10" fill="none" stroke="#ff8c00" stroke-width="1"/><rect x="993.5" y="501.5" width="10" height="10" fill="none" stroke="#228b22" stroke-width="1"/><rect x="1037.5" y="507.5" width="10" height="10" fill="none" stroke="#228b22" stroke-width="1"/><line x1="694" y1="498.5" x2="1086" y2="498.5" stroke="#000" stroke-width="1" stroke-dasharray="10 4" stroke-dashoffset="10"/><use href="#s8" x="681" y="446"/><use href="#s9" x="671" y="458"/><use href="#s10" x="681" y="470"/><use href="#s11" x="671" y="482"/><use href="#s12" x="681" y="494"/><use href="#s13" x="666" y="506"/><use href="#s14" x="676" y="518"/><use href="#s15" x="666" y="530"/><use href="#s16" x="676" y="543"/><use href="#s0" x="730" y="557"/><use href="#s1" x="767" y="557"/><use href="#s2" x="814" y="557"/><use href="#s3" x="858" y="557"/><use href="#s4" x="901" y="557"/><use href="#s5" x="948" y="557"/><use href="#s6" x="985" y="557"/><use href="#s7" x="1029" y="557"/><use href="#s24" transform="translate(645,541) rotate(-90)"/></g>
<g><rect x="156" y="578" width="393" height="1" fill="#000"/><rect x="156" y="674" width="393" height="1" fill="#000"/><rect x="156" y="578" width="1" height="97" fill="#000"/><rect x="548" y="578" width="1" height="97" fill="#000"/><rect x="157" y="590" width="3" height="1" fill="#000"/><rect x="544" y="590" width="4" height="1" fill="#000"/><rect x="157" y="602" width="3" height="1" fill="#000"/><rect x="544" y="602" width="4" height="1" fill="#000"/><rect x="157" y="614" width="3" height="1" fill="#000"/><rect x="544" y="614" width="4" height="1" fill="#000"/><rect x="157" y="626" width="3" height="1" fill="#000"/><rect x="544" y="626" width="4" height="1" fill="#000"/><rect x="157" y="638" width="3" height="1" fill="#000"/><rect x="544" y="638" width="4" height="1" fill="#000"/><rect x="157" y="650" width="3" height="1" fill="#000"/><rect x="544" y="650" width="4" height="1" fill="#000"/><rect x="157" y="662" width="3" height="1" fill="#000"/><rect x="544" y="662" width="4" height="1" fill="#000"/><rect x="199" y="579" width="1" height="3" fill="#000"/><rect x="199" y="670" width="1" height="4" fill="#000"/><rect x="243" y="579" width="1" height="3" fill="#000"/><rect x="243" y="670" width="1" height="4" fill="#000"/><rect x="286" y="579" width="1" height="3" fill="#000"/><rect x="286" y="670" width="1" height="4" fill="#000"/><rect x="330" y="579" width="1" height="3" fill="#000"/><rect x="330" y="670" width="1" height="4" fill="#000"/><rect x="373" y="579" width="1" height="3" fill="#000"/><rect x="373" y="670" width="1" height="4" fill="#000"/><rect x="417" y="579" width="1" height="3" fill="#000"/><rect x="417" y="670" width="1" height="4" fill="#000"/><rect x="460" y="579" width="1" height="3" fill="#000"/><rect x="460" y="670" width="1" height="4" fill="#000"/><rect x="504" y="579" width="1" height="3" fill="#000"/><rect x="504" y="670" width="1" height="4" fill="#000"/><rect x="194.5" y="651.5" width="10" height="10" fill="none" stroke="#000000" stroke-width="1"/><rect x="238.5" y="617.5" width="10" height="10" fill="none" stroke="#0000ff" stroke-width="1"/><rect x="281.5" y="618.5" width="10" height="10" fill="none" stroke="#ff0000" stroke-width="1"/><rect x="325.5" y="616.5" width="10" height="10" fill="none" stroke="#ff0000" stroke-width="1"/><rect x="368.5" y="619.5" width="10" height="10" fill="none" stroke="#ff8c00" stroke-width="1"/><rect x="412.5" y="617.5" width="10" height="10" fill="none" stroke="#ff8c00" stroke-width="1"/><rect x="455.5" y="625.5" width="10" height="10" fill="none" stroke="#228b22" stroke-width="1"/><rect x="499.5" y="626.5" width="10" height="10" fill="none" stroke="#228b22" stroke-width="1"/><line x1="156" y1="626.5" x2="548" y2="626.5" stroke="#000" stroke-width="1" stroke-dasharray="10 4" stroke-dashoffset="10"/><use href="#s8" x="143" y="574"/><use href="#s9" x="133" y="586"/><use href="#s10" x="143" y="598"/><use href="#s11" x="133" y="610"/><use href="#s12" x="143" y="622"/><use href="#s13" x="128" y="634"/><use href="#s14" x="138" y="646"/><use href="#s15" x="128" y="658"/><use href="#s16" x="138" y="670"/><use href="#s0" x="192" y="684"/><use href="#s1" x="229" y="684"/><use href="#s2" x="276" y="684"/><use href="#s3" x="320" y="684"/><use href="#s4" x="363" y="684"/><use href="#s5" x="410" y="684"/><use href="#s6" x="447" y="684"/><use href="#s7" x="491" y="684"/><use href="#s25" transform="translate(107,668) rotate(-90)"/></g>
<g><rect x="694" y="578" width="393" height="1" fill="#000"/><rect x="694" y="674" width="393" height="1" fill="#000"/><rect x="694" y="578" width="1" height="97" fill="#000"/><rect x="1086" y="578" width="1" height="97" fill="#000"/><rect x="695" y="590" width="3" height="1" fill="#000"/><rect x="1082" y="590" width="4" height="1" fill="#000"/><rect x="695" y="602" width="3" height="1" fill="#000"/><rect x="1082" y="602" width="4" height="1" fill="#000"/><rect x="695" y="614" width="3" height="1" fill="#000"/><rect x="1082" y="614" width="4" height="1" fill="#000"/><rect x="695" y="626" width="3" height="1" fill="#000"/><rect x="1082" y="626" width="4" height="1" fill="#000"/><rect x="695" y="638" width="3" height="1" fill="#000"/><rect x="1082" y="638" width="4" height="1" fill="#000"/><rect x="695" y="650" width="3" height="1" fill="#000"/><rect x="1082" y="650" width="4" height="1" fill="#000"/><rect x="695" y="662" width="3" height="1" fill="#000"/><rect x="1082" y="662" width="4" height="1" fill="#000"/><rect x="737" y="579" width="1" height="3" fill="#000"/><rect x="737" y="670" width="1" height="4" fill="#000"/><rect x="781" y="579" width="1" height="3" fill="#000"/><rect x="781" y="670" width="1" height="4" fill="#000"/><rect x="824" y="579" width="1" height="3" fill="#000"/><rect x="824" y="670" width="1" height="4" fill="#000"/><rect x="868" y="579" width="1" height="3" fill="#000"/><rect x="868" y="670" width="1" height="4" fill="#000"/><rect x="911" y="579" width="1" height="3" fill="#000"/><rect x="911" y="670" width="1" height="4" fill="#000"/><rect x="955" y="579" width="1" height="3" fill="#000"/><rect x="955" y="670" width="1" height="4" fill="#000"/><rect x="998" y="579" width="1" height="3" fill="#000"/><rect x="998" y="670" width="1" height="4" fill="#000"/><rect x="1042" y="579" width="1" height="3" fill="#000"/><rect x="1042" y="670" width="1" height="4" fill="#000"/><line x1="694" y1="626.5" x2="1086" y2="626.5" stroke="#000" stroke-width="1" stroke-dasharray="10 4" stroke-dashoffset="10"/><use href="#s8" x="681" y="574"/><use href="#s9" x="671" y="586"/><use href="#s10" x="681" y="598"/><use href="#s11" x="671" y="610"/><use href="#s12" x="681" y="622"/><use href="#s13" x="666" y="634"/><use href="#s14" x="676" y="646"/><use href="#s15" x="666" y="658"/><use href="#s16" x="676" y="670"/><use href="#s0" x="730" y="684"/><use href="#s1" x="767" y="684"/><use href="#s2" x="814" y="684"/><use href="#s3" x="858" y="684"/><use href="#s4" x="901" y="684"/><use href="#s5" x="948" y="684"/><use href="#s6" x="985" y="684"/><use href="#s7" x="1029" y="684"/><use href="#s26" transform="translate(645,669) rotate(-90)"/></g>
<g><rect x="156" y="705" width="393" height="1" fill="#000"/><rect x="156" y="802" width="393" height="1" fill="#000"/><rect x="156" y="705" width="1" height="98" fill="#000"/><rect x="548" y="705" width="1" height="98" fill="#000"/><rect x="157" y="717" width="3" height="1" fill="#000"/><rect x="544" y="717" width="4" height="1" fill="#000"/><rect x="157" y="729" width="3" height="1" fill="#000"/><rect x="544" y="729" width="4" height="1" fill="#000"/><rect x="157" y="741" width="3" height="1" fill="#000"/><rect x="544" y="741" width="4" height="1" fill="#000"/><rect x="157" y="753" width="3" height="1" fill="#000"/><rect x="544" y="753" width="4" height="1" fill="#000"/><rect x="157" y="765" width="3" height="1" fill="#000"/><rect x="544" y="765" width="4" height="1" fill="#000"/><rect x="157" y="777" width="3" height="1" fill="#000"/><rect x="544" y="777" width="4" height="1" fill="#000"/><rect x="157" y="789" width="3" height="1" fill="#000"/><rect x="544" y="789" width="4" height="1" fill="#000"/><rect x="199" y="706" width="1" height="3" fill="#000"/><rect x="199" y="798" width="1" height="4" fill="#000"/><rect x="243" y="706" width="1" height="3" fill="#000"/><rect x="243" y="798" width="1" height="4" fill="#000"/><rect x="286" y="706" width="1" height="3" fill="#000"/><rect x="286" y="798" width="1" height="4" fill="#000"/><rect x="330" y="706" width="1" height="3" fill="#000"/><rect x="330" y="798" width="1" height="4" fill="#000"/><rect x="373" y="706" width="1" height="3" fill="#000"/><rect x="373" y="798" width="1" height="4" fill="#000"/><rect x="417" y="706" width="1" height="3" fill="#000"/><rect x="417" y="798" width="1" height="4" fill="#000"/><rect x="460" y="706" width="1" height="3" fill="#000"/><rect x="460" y="798" width="1" height="4" fill="#000"/><rect x="504" y="706" width="1" height="3" fill="#000"/><rect x="504" y="798" width="1" height="4" fill="#000"/><rect x="194.5" y="781.5" width="10" height="10" fill="none" stroke="#000000" stroke-width="1"/><rect x="238.5" y="746.5" width="10" height="10" fill="none" stroke="#0000ff" stroke-width="1"/><rect x="281.5" y="746.5" width="10" height="10" fill="none" stroke="#ff0000" stroke-width="1"/><rect x="325.5" y="745.5" width="10" height="10" fill="none" stroke="#ff0000" stroke-width="1"/><rect x="368.5" y="747.5" width="10" height="10" fill="none" stroke="#ff8c00" stroke-width="1"/><rect x="412.5" y="746.5" width="10" height="10" fill="none" stroke="#ff8c00" stroke-width="1"/><rect x="455.5" y="755.5" width="10" height="10" fill="none" stroke="#228b22" stroke-width="1"/><rect x="499.5" y="757.5" width="10" height="10" fill="none" stroke="#228b22" stroke-width="1"/><line x1="156" y1="753.5" x2="548" y2="753.5" stroke="#000" stroke-width="1" stroke-dasharray="10 4" stroke-dashoffset="10"/><use href="#s8" x="143" y="701"/><use href="#s9" x="133" y="713"/><use href="#s10" x="143" y="725"/><use href="#s11" x="133" y="737"/><use href="#s12" x="143" y="749"/><use href="#s13" x="128" y="761"/><use href="#s14" x="138" y="773"/><use href="#s15" x="128" y="785"/><use href="#s16" x="138" y="798"/><use href="#s0" x="192" y="812"/><use href="#s1" x="229" y="812"/><use href="#s2" x="276" y="812"/><use href="#s3" x="320" y="812"/><use href="#s4" x="363" y="812"/><use href="#s5" x="410" y="812"/><use href="#s6" x="447" y="812"/><use href="#s7" x="491" y="812"/><use href="#s27" transform="translate(107,798) rotate(-90)"/></g>
<g><rect x="694" y="705" width="393" height="1" fill="#000"/><rect x="694" y="802" width="393" height="1" fill="#000"/><rect x="694" y="705" width="1" height="98" fill="#000"/><rect x="1086" y="705" width="1" height="98" fill="#000"/><rect x="695" y="717" width="3" height="1" fill="#000"/><rect x="1082" y="717" width="4" height="1" fill="#000"/><rect x="695" y="729" width="3" height="1" fill="#000"/><rect x="1082" y="729" width="4" height="1" fill="#000"/><rect x="695" y="741" width="3" height="1" fill="#000"/><rect x="1082" y="741" width="4" height="1" fill="#000"/><rect x="695" y="753" width="3" height="1" fill="#000"/><rect x="1082" y="753" width="4" height="1" fill="#000"/><rect x="695" y="765" width="3" height="1" fill="#000"/><rect x="1082" y="765" width="4" height="1" fill="#000"/><rect x="695" y="777" width="3" height="1" fill="#000"/><rect x="1082" y="777" width="4" height="1" fill="#000"/><rect x="695" y="789" width="3" height="1" fill="#000"/><rect x="1082" y="789" width="4" height="1" fill="#000"/><rect x="737" y="706" width="1" height="3" fill="#000"/><rect x="737" y="798" width="1" height="4" fill="#000"/><rect x="781" y="706" width="1" height="3" fill="#000"/><rect x="781" y="798" width="1" height="4" fill="#000"/><rect x="824" y="706" width="1" height="3" fill="#000"/><rect x="824" y="798" width="1" height="4" fill="#000"/><rect x="868" y="706" width="1" height="3" fill="#000"/><rect x="868" y="798" width="1" height="4" fill="#000"/><rect x="911" y="706" width="1" height="3" fill="#000"/><rect x="911" y="798" width="1" height="4" fill="#000"/><rect x="955" y="706" width="1" height="3" fill="#000"/><rect x="955" y="798" width="1" height="4" fill="#000"/><rect x="998" y="706" width="1" height="3" fill="#000"/><rect x="998" y="798" width="1" height="4" fill="#000"/><rect x="1042" y="706" width="1" height="3" fill="#000"/><rect x="1042" y="798" width="1" height="4" fill="#000"/><rect x="732.5" y="782.5" width="10" height="10" fill="none" stroke="#000000" stroke-width="1"/><rect x="776.5" y="748.5" width="10" height="10" fill="none" stroke="#0000ff" stroke-width="1"/><rect x="819.5" y="751.5" width="10" height="10" fill="none" stroke="#ff0000" stroke-width="1"/><rect x="863.5" y="744.5" width="10" height="10" fill="none" stroke="#ff0000" stroke-width="1"/><rect x="906.5" y="748.5" width="10" height="10" fill="none" stroke="#ff8c00" stroke-width="1"/><rect x="950.5" y="748.5" width="10" height="10" fill="none" stroke="#ff8c00" stroke-width="1"/><rect x="993.5" y="759.5" width="10" height="10" fill="none" stroke="#228b22" stroke-width="1"/><rect x="1037.5" y="762.5" width="10" height="10" fill="none" stroke="#228b22" stroke-width="1"/><line x1="694" y1="753.5" x2="1086" y2="753.5" stroke="#000" stroke-width="1" stroke-dasharray="10 4" stroke-dashoffset="10"/><use href="#s8" x="681" y="701"/><use href="#s9" x="671" y="713"/><use href="#s10" x="681" y="725"/><use href="#s11" x="671" y="737"/><use href="#s12" x="681" y="749"/><use href="#s13" x="666" y="761"/><use href="#s14" x="676" y="773"/><use href="#s15" x="666" y="785"/><use href="#s16" x="676" y="798"/><use href="#s0" x="730" y="812"/><use href="#s1" x="767" y="812"/><use href="#s2" x="814" y="812"/><use href="#s3" x="858" y="812"/><use href="#s4" x="901" y="812"/><use href="#s5" x="948" y="812"/><use href="#s6" x="985" y="812"/><use href="#s7" x="1029" y="812"/><use href="#s28" transform="translate(645,798) rotate(-90)"/></g>
</svg></body></html>
